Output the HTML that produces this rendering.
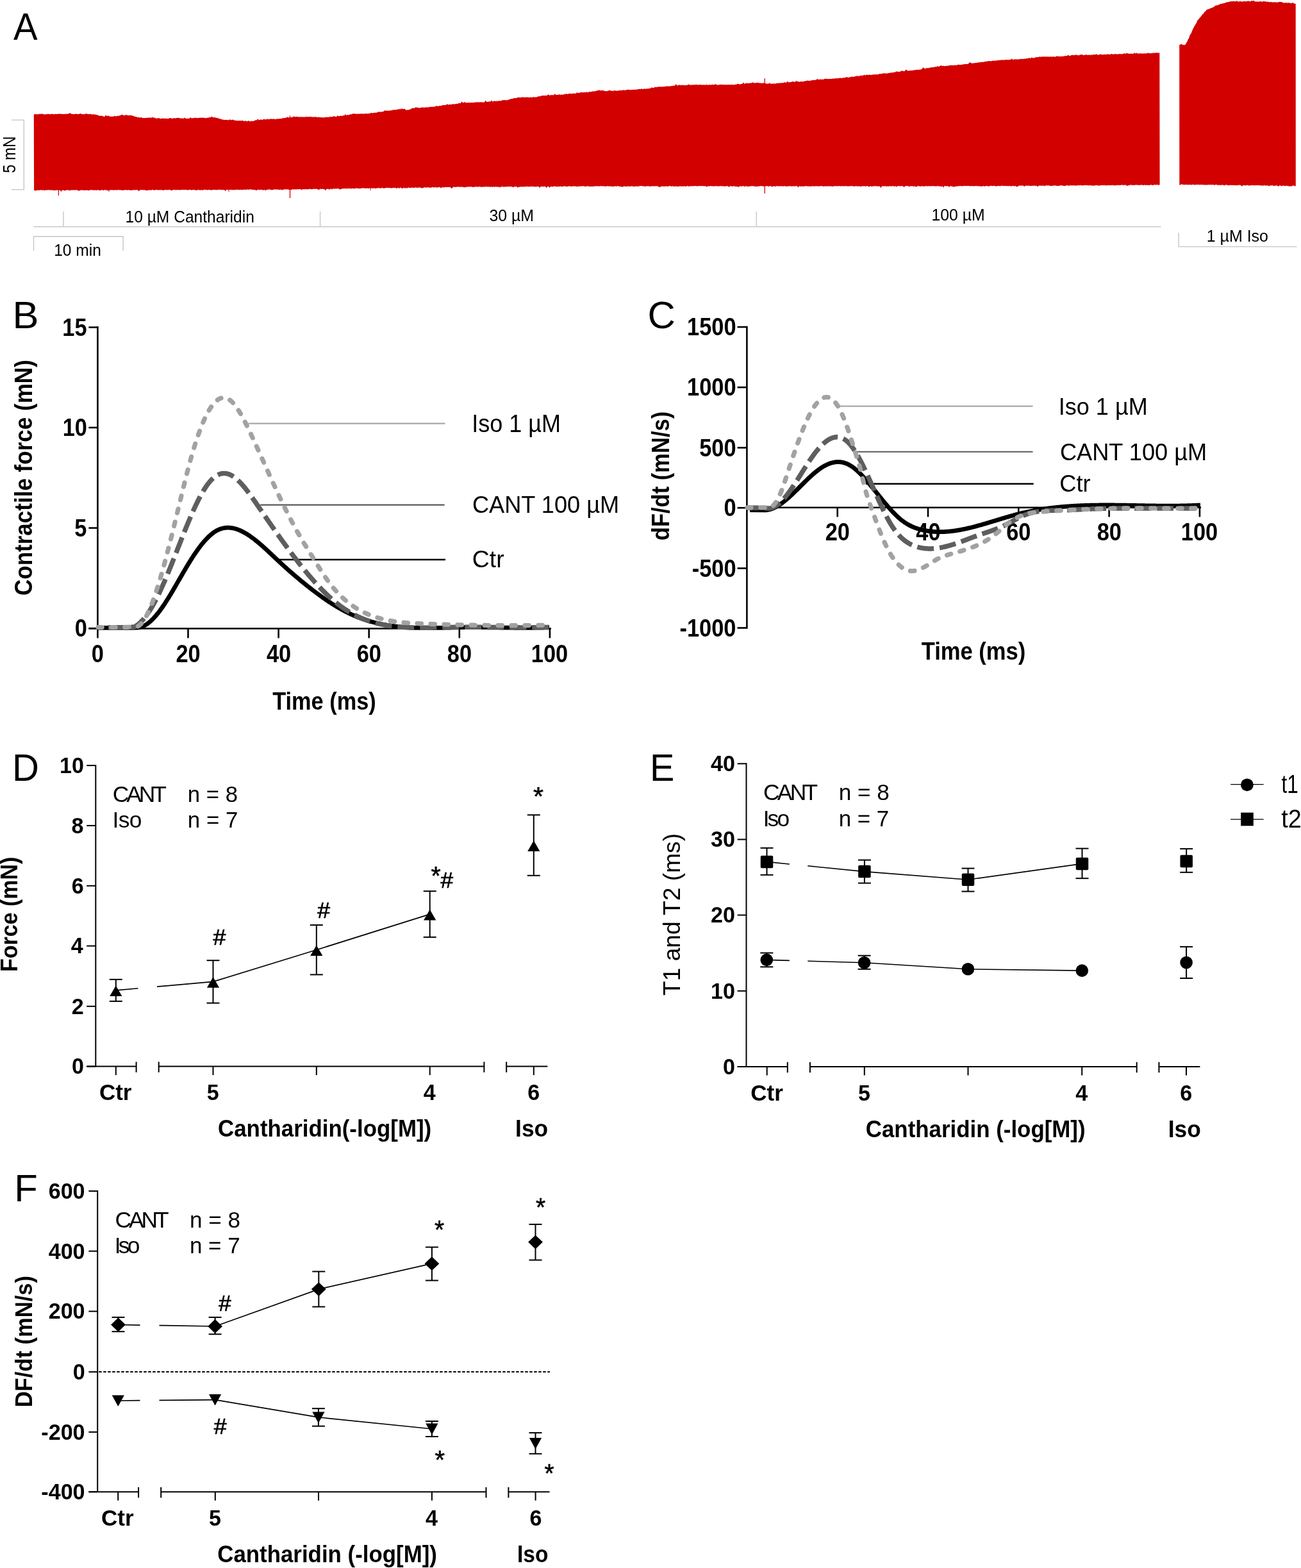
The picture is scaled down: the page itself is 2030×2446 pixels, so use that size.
<!DOCTYPE html>
<html><head><meta charset="utf-8"><title>Figure</title>
<style>
html,body{margin:0;padding:0;background:#fff;}
body{width:2030px;height:2446px;overflow:hidden;}
svg{display:block;}
text{font-family:'Liberation Sans', Arial, Helvetica, sans-serif;}
</style></head>
<body>
<svg width="2030" height="2446" viewBox="0 0 2030 2446">
<rect width="2030" height="2446" fill="#fff"/>
<path d="M52.8,178.5 L54.3,178.3 L55.8,178.1 L57.3,178.4 L58.8,178.0 L60.3,178.4 L61.8,177.6 L63.3,178.0 L64.8,177.5 L66.3,177.5 L67.8,178.3 L69.3,178.4 L70.8,178.2 L72.3,178.2 L73.8,178.1 L75.3,177.7 L76.8,178.1 L78.3,178.3 L79.8,178.1 L81.3,177.8 L82.8,177.9 L84.3,178.2 L85.8,178.3 L87.3,177.6 L88.8,178.2 L90.3,177.8 L91.8,177.5 L93.3,177.8 L94.8,177.5 L96.3,178.0 L97.8,177.9 L99.3,177.9 L100.8,177.7 L102.3,177.9 L103.8,177.4 L105.3,178.1 L106.8,177.2 L108.3,176.8 L109.8,176.2 L111.3,177.7 L112.8,178.1 L114.3,178.1 L115.8,178.2 L117.3,177.7 L118.8,177.5 L120.3,178.0 L121.8,177.9 L123.3,177.9 L124.8,177.2 L126.3,177.3 L127.8,178.2 L129.3,177.9 L130.8,178.3 L132.3,178.2 L133.8,177.1 L135.3,177.8 L136.8,177.8 L138.3,177.9 L139.8,178.2 L141.3,177.4 L142.8,178.4 L144.3,178.5 L145.8,178.3 L147.3,178.6 L148.8,178.8 L150.3,178.9 L151.8,179.3 L153.3,180.1 L154.8,180.6 L156.3,180.8 L157.8,180.6 L159.3,180.8 L160.8,181.5 L162.3,181.8 L163.8,181.8 L165.3,178.9 L166.8,181.6 L168.3,180.4 L169.8,180.8 L171.3,181.8 L172.8,181.7 L174.3,181.7 L175.8,181.8 L177.3,181.4 L178.8,180.7 L180.3,181.4 L181.8,181.3 L183.3,180.7 L184.8,180.8 L186.3,180.6 L187.8,179.9 L189.3,178.9 L190.8,178.7 L192.3,180.0 L193.8,180.0 L195.3,179.7 L196.8,179.2 L198.3,179.5 L199.8,180.0 L201.3,179.9 L202.8,179.9 L204.3,179.4 L205.8,180.6 L207.3,180.6 L208.8,181.2 L210.3,181.7 L211.8,182.3 L213.3,182.5 L214.8,183.0 L216.3,183.1 L217.8,183.4 L219.3,183.6 L220.8,182.8 L222.3,184.2 L223.8,183.9 L225.3,184.1 L226.8,184.2 L228.3,183.8 L229.8,183.7 L231.3,183.7 L232.8,183.5 L234.3,183.6 L235.8,183.5 L237.3,183.7 L238.8,182.2 L240.3,184.2 L241.8,183.6 L243.3,184.7 L244.8,184.8 L246.3,184.3 L247.8,184.2 L249.3,184.8 L250.8,185.2 L252.3,184.8 L253.8,184.4 L255.3,185.0 L256.8,184.8 L258.3,184.9 L259.8,184.7 L261.3,185.2 L262.8,185.0 L264.3,184.3 L265.8,184.1 L267.3,184.8 L268.8,184.7 L270.3,184.6 L271.8,184.2 L273.3,184.5 L274.8,184.3 L276.3,184.1 L277.8,183.7 L279.3,183.9 L280.8,184.4 L282.3,184.5 L283.8,184.7 L285.3,184.5 L286.8,184.9 L288.3,183.2 L289.8,185.0 L291.3,185.0 L292.8,184.8 L294.3,184.9 L295.8,184.6 L297.3,183.0 L298.8,184.6 L300.3,184.2 L301.8,184.3 L303.3,184.0 L304.8,183.6 L306.3,184.0 L307.8,184.2 L309.3,183.9 L310.8,183.7 L312.3,183.7 L313.8,183.4 L315.3,184.0 L316.8,183.2 L318.3,184.0 L319.8,184.0 L321.3,184.2 L322.8,183.7 L324.3,183.7 L325.8,183.6 L327.3,182.9 L328.8,183.2 L330.3,181.4 L331.8,182.9 L333.3,183.3 L334.8,182.9 L336.3,183.4 L337.8,184.0 L339.3,184.1 L340.8,184.4 L342.3,185.2 L343.8,185.4 L345.3,185.8 L346.8,186.4 L348.3,186.8 L349.8,187.0 L351.3,187.1 L352.8,187.1 L354.3,187.0 L355.8,187.2 L357.3,187.4 L358.8,186.1 L360.3,187.3 L361.8,187.2 L363.3,186.4 L364.8,187.2 L366.3,187.9 L367.8,187.7 L369.3,188.2 L370.8,188.2 L372.3,188.4 L373.8,188.0 L375.3,188.3 L376.8,188.5 L378.3,187.8 L379.8,188.7 L381.3,189.1 L382.8,188.3 L384.3,189.1 L385.8,189.4 L387.3,188.6 L388.8,188.6 L390.3,189.7 L391.8,188.6 L393.3,188.9 L394.8,189.1 L396.3,188.7 L397.8,187.6 L399.3,187.5 L400.8,187.3 L402.3,185.3 L403.8,187.5 L405.3,186.7 L406.8,186.4 L408.3,186.7 L409.8,186.8 L411.3,185.9 L412.8,186.1 L414.3,186.5 L415.8,186.1 L417.3,185.6 L418.8,186.1 L420.3,186.2 L421.8,185.2 L423.3,185.5 L424.8,185.8 L426.3,185.4 L427.8,185.5 L429.3,185.9 L430.8,185.7 L432.3,185.6 L433.8,185.2 L435.3,185.6 L436.8,185.1 L438.3,185.1 L439.8,184.9 L441.3,184.1 L442.8,184.3 L444.3,184.3 L445.8,183.5 L447.3,183.4 L448.8,182.3 L450.3,183.6 L451.8,183.3 L453.3,182.9 L454.8,183.0 L456.3,182.8 L457.8,181.8 L459.3,181.7 L460.8,182.4 L462.3,182.0 L463.8,182.1 L465.3,182.3 L466.8,182.4 L468.3,182.6 L469.8,182.3 L471.3,182.6 L472.8,182.6 L474.3,182.4 L475.8,182.6 L477.3,182.2 L478.8,182.1 L480.3,182.6 L481.8,182.0 L483.3,182.6 L484.8,181.7 L486.3,182.5 L487.8,182.6 L489.3,182.5 L490.8,182.8 L492.3,182.1 L493.8,182.7 L495.3,182.9 L496.8,182.6 L498.3,182.9 L499.8,182.8 L501.3,183.5 L502.8,183.1 L504.3,183.3 L505.8,183.5 L507.3,182.8 L508.8,182.8 L510.3,182.8 L511.8,182.8 L513.3,182.7 L514.8,182.3 L516.3,182.1 L517.8,182.4 L519.3,182.0 L520.8,181.0 L522.3,181.8 L523.8,182.0 L525.3,182.0 L526.8,179.9 L528.3,181.6 L529.8,181.1 L531.3,180.4 L532.8,181.0 L534.3,180.8 L535.8,180.0 L537.3,180.3 L538.8,178.0 L540.3,180.0 L541.8,179.2 L543.3,179.3 L544.8,179.4 L546.3,178.3 L547.8,178.2 L549.3,178.3 L550.8,177.1 L552.3,177.4 L553.8,177.3 L555.3,177.7 L556.8,177.8 L558.3,177.4 L559.8,177.7 L561.3,177.6 L562.8,177.3 L564.3,177.5 L565.8,177.6 L567.3,177.5 L568.8,177.4 L570.3,177.2 L571.8,177.1 L573.3,177.4 L574.8,177.2 L576.3,176.9 L577.8,176.8 L579.3,175.7 L580.8,176.8 L582.3,176.1 L583.8,176.1 L585.3,175.7 L586.8,175.8 L588.3,175.5 L589.8,174.5 L591.3,174.5 L592.8,174.4 L594.3,174.4 L595.8,174.4 L597.3,174.1 L598.8,173.7 L600.3,172.3 L601.8,172.8 L603.3,172.3 L604.8,173.0 L606.3,172.4 L607.8,172.5 L609.3,172.4 L610.8,171.9 L612.3,171.8 L613.8,171.3 L615.3,171.5 L616.8,171.3 L618.3,171.3 L619.8,171.1 L621.3,170.1 L622.8,170.8 L624.3,169.6 L625.8,170.8 L627.3,168.8 L628.8,170.4 L630.3,169.7 L631.8,170.0 L633.3,171.4 L634.8,171.8 L636.3,171.3 L637.8,171.5 L639.3,170.5 L640.8,170.4 L642.3,169.0 L643.8,168.7 L645.3,168.4 L646.8,169.0 L648.3,167.0 L649.8,168.0 L651.3,167.3 L652.8,168.5 L654.3,168.2 L655.8,168.2 L657.3,167.7 L658.8,167.6 L660.3,167.6 L661.8,167.9 L663.3,167.6 L664.8,167.3 L666.3,167.4 L667.8,167.5 L669.3,166.9 L670.8,166.8 L672.3,166.8 L673.8,166.5 L675.3,166.8 L676.8,166.4 L678.3,166.5 L679.8,165.7 L681.3,165.1 L682.8,165.7 L684.3,165.5 L685.8,165.1 L687.3,165.1 L688.8,165.0 L690.3,163.9 L691.8,164.0 L693.3,163.9 L694.8,163.9 L696.3,163.6 L697.8,162.3 L699.3,163.2 L700.8,163.2 L702.3,162.8 L703.8,162.9 L705.3,162.9 L706.8,162.1 L708.3,162.4 L709.8,162.4 L711.3,161.9 L712.8,161.8 L714.3,161.9 L715.8,160.8 L717.3,161.0 L718.8,161.0 L720.3,158.3 L721.8,159.9 L723.3,160.2 L724.8,158.7 L726.3,160.3 L727.8,160.2 L729.3,160.2 L730.8,160.0 L732.3,160.3 L733.8,160.0 L735.3,160.1 L736.8,159.9 L738.3,160.2 L739.8,159.6 L741.3,160.1 L742.8,159.3 L744.3,159.4 L745.8,159.6 L747.3,159.3 L748.8,159.5 L750.3,159.2 L751.8,159.4 L753.3,159.5 L754.8,159.7 L756.3,158.7 L757.8,156.8 L759.3,159.0 L760.8,158.7 L762.3,158.7 L763.8,158.3 L765.3,158.4 L766.8,156.5 L768.3,158.3 L769.8,158.3 L771.3,157.3 L772.8,157.9 L774.3,157.5 L775.8,157.7 L777.3,157.7 L778.8,156.9 L780.3,157.4 L781.8,157.3 L783.3,156.6 L784.8,156.2 L786.3,156.1 L787.8,156.0 L789.3,156.7 L790.8,155.9 L792.3,156.2 L793.8,155.4 L795.3,154.7 L796.8,154.6 L798.3,154.0 L799.8,154.2 L801.3,153.0 L802.8,153.3 L804.3,153.0 L805.8,152.8 L807.3,152.5 L808.8,151.7 L810.3,152.0 L811.8,152.2 L813.3,152.0 L814.8,151.6 L816.3,151.4 L817.8,152.1 L819.3,152.1 L820.8,151.5 L822.3,151.7 L823.8,151.8 L825.3,152.1 L826.8,151.9 L828.3,151.5 L829.8,152.3 L831.3,151.5 L832.8,151.2 L834.3,151.8 L835.8,151.6 L837.3,151.4 L838.8,151.1 L840.3,149.9 L841.8,150.4 L843.3,149.9 L844.8,149.2 L846.3,149.2 L847.8,149.1 L849.3,149.2 L850.8,149.0 L852.3,148.9 L853.8,148.9 L855.3,146.9 L856.8,148.4 L858.3,148.7 L859.8,148.0 L861.3,148.4 L862.8,148.0 L864.3,148.4 L865.8,146.1 L867.3,148.0 L868.8,148.1 L870.3,147.9 L871.8,147.5 L873.3,147.2 L874.8,147.9 L876.3,147.6 L877.8,147.7 L879.3,147.5 L880.8,146.6 L882.3,147.2 L883.8,145.7 L885.3,146.9 L886.8,146.6 L888.3,145.8 L889.8,146.1 L891.3,146.3 L892.8,146.3 L894.3,145.4 L895.8,146.0 L897.3,145.8 L898.8,145.7 L900.3,144.2 L901.8,145.0 L903.3,144.9 L904.8,144.5 L906.3,144.3 L907.8,143.8 L909.3,144.5 L910.8,143.7 L912.3,144.1 L913.8,144.1 L915.3,143.5 L916.8,144.0 L918.3,143.8 L919.8,142.8 L921.3,143.4 L922.8,142.9 L924.3,142.6 L925.8,142.6 L927.3,142.5 L928.8,142.2 L930.3,141.7 L931.8,141.2 L933.3,141.2 L934.8,140.3 L936.3,141.2 L937.8,141.2 L939.3,141.0 L940.8,141.1 L942.3,141.4 L943.8,142.0 L945.3,142.2 L946.8,142.2 L948.3,141.8 L949.8,141.2 L951.3,140.9 L952.8,141.3 L954.3,141.8 L955.8,141.7 L957.3,141.9 L958.8,140.8 L960.3,141.5 L961.8,141.7 L963.3,141.6 L964.8,141.4 L966.3,141.1 L967.8,141.1 L969.3,140.9 L970.8,141.0 L972.3,140.2 L973.8,140.8 L975.3,140.7 L976.8,140.6 L978.3,140.0 L979.8,139.7 L981.3,139.9 L982.8,140.1 L984.3,140.4 L985.8,139.8 L987.3,140.3 L988.8,139.6 L990.3,140.0 L991.8,139.7 L993.3,139.5 L994.8,139.4 L996.3,139.1 L997.8,138.8 L999.3,139.2 L1000.8,138.3 L1002.3,139.1 L1003.8,138.9 L1005.3,138.3 L1006.8,138.7 L1008.3,138.5 L1009.8,138.4 L1011.3,138.1 L1012.8,138.3 L1014.3,137.9 L1015.8,136.7 L1017.3,136.6 L1018.8,137.0 L1020.3,136.9 L1021.8,135.4 L1023.3,136.0 L1024.8,136.1 L1026.3,135.5 L1027.8,135.5 L1029.3,135.3 L1030.8,135.3 L1032.3,135.4 L1033.8,135.2 L1035.3,135.3 L1036.8,135.3 L1038.3,134.5 L1039.8,134.8 L1041.3,134.6 L1042.8,134.5 L1044.3,134.5 L1045.8,134.4 L1047.3,134.2 L1048.8,134.0 L1050.3,133.8 L1051.8,133.8 L1053.3,133.2 L1054.8,130.9 L1056.3,133.6 L1057.8,133.3 L1059.3,132.2 L1060.8,132.8 L1062.3,133.1 L1063.8,132.7 L1065.3,132.5 L1066.8,132.9 L1068.3,133.1 L1069.8,133.1 L1071.3,132.8 L1072.8,132.7 L1074.3,131.6 L1075.8,132.3 L1077.3,132.6 L1078.8,132.8 L1080.3,132.0 L1081.8,132.7 L1083.3,131.9 L1084.8,132.2 L1086.3,132.1 L1087.8,132.1 L1089.3,132.6 L1090.8,132.3 L1092.3,132.1 L1093.8,132.3 L1095.3,132.6 L1096.8,132.4 L1098.3,132.3 L1099.8,132.4 L1101.3,132.4 L1102.8,131.8 L1104.3,132.7 L1105.8,132.5 L1107.3,132.1 L1108.8,132.4 L1110.3,132.2 L1111.8,131.7 L1113.3,132.3 L1114.8,132.0 L1116.3,131.0 L1117.8,131.9 L1119.3,132.4 L1120.8,132.4 L1122.3,132.3 L1123.8,132.0 L1125.3,131.7 L1126.8,132.1 L1128.3,132.2 L1129.8,131.9 L1131.3,132.0 L1132.8,132.4 L1134.3,132.0 L1135.8,132.1 L1137.3,132.1 L1138.8,132.2 L1140.3,132.1 L1141.8,132.1 L1143.3,131.9 L1144.8,132.3 L1146.3,132.2 L1147.8,131.4 L1149.3,131.7 L1150.8,130.7 L1152.3,131.1 L1153.8,131.5 L1155.3,131.4 L1156.8,130.9 L1158.3,131.0 L1159.8,128.2 L1161.3,130.8 L1162.8,130.2 L1164.3,129.8 L1165.8,129.6 L1167.3,130.2 L1168.8,129.6 L1170.3,129.7 L1171.8,129.6 L1173.3,129.3 L1174.8,128.2 L1176.3,129.6 L1177.8,129.5 L1179.3,129.3 L1180.8,129.1 L1182.3,129.1 L1183.8,129.3 L1185.3,129.5 L1186.8,129.6 L1188.3,130.0 L1189.8,129.6 L1191.3,129.4 L1192.8,129.8 L1194.3,130.1 L1195.8,130.6 L1197.3,130.6 L1198.8,131.0 L1200.3,129.1 L1201.8,130.4 L1203.3,130.6 L1204.8,130.8 L1206.3,130.2 L1207.8,130.4 L1209.3,130.4 L1210.8,130.4 L1212.3,129.4 L1213.8,130.0 L1215.3,129.4 L1216.8,129.4 L1218.3,129.7 L1219.8,129.0 L1221.3,129.4 L1222.8,129.1 L1224.3,128.1 L1225.8,128.9 L1227.3,128.6 L1228.8,126.8 L1230.3,128.3 L1231.8,128.4 L1233.3,128.0 L1234.8,128.0 L1236.3,127.1 L1237.8,127.5 L1239.3,127.4 L1240.8,128.0 L1242.3,125.7 L1243.8,127.3 L1245.3,127.0 L1246.8,127.7 L1248.3,127.4 L1249.8,127.1 L1251.3,127.3 L1252.8,127.2 L1254.3,126.9 L1255.8,126.5 L1257.3,126.2 L1258.8,126.3 L1260.3,125.2 L1261.8,126.2 L1263.3,125.9 L1264.8,125.7 L1266.3,125.3 L1267.8,125.2 L1269.3,124.8 L1270.8,124.9 L1272.3,124.8 L1273.8,124.2 L1275.3,123.1 L1276.8,124.1 L1278.3,124.2 L1279.8,123.4 L1281.3,124.0 L1282.8,123.8 L1284.3,123.9 L1285.8,123.5 L1287.3,122.7 L1288.8,122.8 L1290.3,123.3 L1291.8,123.1 L1293.3,123.2 L1294.8,122.9 L1296.3,123.1 L1297.8,122.9 L1299.3,122.4 L1300.8,122.8 L1302.3,122.4 L1303.8,122.2 L1305.3,122.1 L1306.8,122.4 L1308.3,122.1 L1309.8,121.8 L1311.3,121.6 L1312.8,122.0 L1314.3,121.8 L1315.8,121.2 L1317.3,121.2 L1318.8,121.2 L1320.3,120.3 L1321.8,120.2 L1323.3,121.1 L1324.8,120.9 L1326.3,119.8 L1327.8,120.5 L1329.3,119.3 L1330.8,119.8 L1332.3,119.9 L1333.8,119.1 L1335.3,119.3 L1336.8,118.2 L1338.3,118.7 L1339.8,118.7 L1341.3,118.5 L1342.8,117.8 L1344.3,118.0 L1345.8,117.7 L1347.3,117.6 L1348.8,116.4 L1350.3,117.7 L1351.8,116.6 L1353.3,116.8 L1354.8,117.1 L1356.3,116.4 L1357.8,116.8 L1359.3,116.9 L1360.8,116.7 L1362.3,116.3 L1363.8,116.3 L1365.3,116.2 L1366.8,116.1 L1368.3,116.3 L1369.8,116.1 L1371.3,116.0 L1372.8,114.7 L1374.3,115.5 L1375.8,114.9 L1377.3,114.6 L1378.8,114.3 L1380.3,114.4 L1381.8,114.5 L1383.3,114.6 L1384.8,114.4 L1386.3,114.1 L1387.8,114.0 L1389.3,113.3 L1390.8,113.7 L1392.3,113.0 L1393.8,113.1 L1395.3,112.7 L1396.8,112.4 L1398.3,111.6 L1399.8,111.4 L1401.3,111.9 L1402.8,111.7 L1404.3,111.9 L1405.8,110.7 L1407.3,110.3 L1408.8,111.1 L1410.3,111.1 L1411.8,111.1 L1413.3,108.8 L1414.8,108.9 L1416.3,110.5 L1417.8,110.4 L1419.3,110.0 L1420.8,110.1 L1422.3,110.1 L1423.8,110.0 L1425.3,109.6 L1426.8,109.3 L1428.3,109.2 L1429.8,108.8 L1431.3,108.7 L1432.8,109.0 L1434.3,108.7 L1435.8,108.6 L1437.3,108.2 L1438.8,107.5 L1440.3,105.0 L1441.8,106.4 L1443.3,107.1 L1444.8,106.7 L1446.3,106.1 L1447.8,106.3 L1449.3,106.0 L1450.8,105.5 L1452.3,105.5 L1453.8,104.9 L1455.3,104.7 L1456.8,104.9 L1458.3,104.5 L1459.8,103.9 L1461.3,104.4 L1462.8,102.8 L1464.3,103.9 L1465.8,103.6 L1467.3,102.6 L1468.8,102.0 L1470.3,103.2 L1471.8,102.6 L1473.3,103.2 L1474.8,103.1 L1476.3,102.9 L1477.8,102.4 L1479.3,102.8 L1480.8,102.2 L1482.3,102.0 L1483.8,101.6 L1485.3,101.9 L1486.8,101.7 L1488.3,101.9 L1489.8,101.4 L1491.3,101.8 L1492.8,101.5 L1494.3,101.3 L1495.8,100.5 L1497.3,101.2 L1498.8,101.1 L1500.3,100.9 L1501.8,100.5 L1503.3,100.6 L1504.8,100.1 L1506.3,99.9 L1507.8,100.1 L1509.3,100.0 L1510.8,99.6 L1512.3,98.3 L1513.8,97.0 L1515.3,98.5 L1516.8,98.8 L1518.3,98.5 L1519.8,98.4 L1521.3,98.2 L1522.8,97.9 L1524.3,98.0 L1525.8,97.4 L1527.3,97.2 L1528.8,97.5 L1530.3,96.7 L1531.8,96.9 L1533.3,96.8 L1534.8,96.7 L1536.3,96.2 L1537.8,96.0 L1539.3,95.6 L1540.8,95.9 L1542.3,95.1 L1543.8,95.3 L1545.3,95.3 L1546.8,95.4 L1548.3,94.7 L1549.8,94.7 L1551.3,95.1 L1552.8,94.4 L1554.3,94.6 L1555.8,94.4 L1557.3,93.7 L1558.8,94.1 L1560.3,93.9 L1561.8,93.4 L1563.3,93.8 L1564.8,93.2 L1566.3,93.7 L1567.8,93.4 L1569.3,93.1 L1570.8,93.4 L1572.3,93.1 L1573.8,93.6 L1575.3,92.9 L1576.8,93.2 L1578.3,91.5 L1579.8,92.8 L1581.3,92.9 L1582.8,92.4 L1584.3,92.6 L1585.8,92.6 L1587.3,92.5 L1588.8,92.7 L1590.3,92.2 L1591.8,92.2 L1593.3,91.7 L1594.8,92.1 L1596.3,92.2 L1597.8,91.6 L1599.3,91.7 L1600.8,91.5 L1602.3,90.9 L1603.8,91.5 L1605.3,90.1 L1606.8,90.8 L1608.3,91.0 L1609.8,89.2 L1611.3,90.4 L1612.8,90.5 L1614.3,90.0 L1615.8,89.5 L1617.3,88.9 L1618.8,89.3 L1620.3,89.2 L1621.8,88.3 L1623.3,88.7 L1624.8,88.4 L1626.3,88.8 L1627.8,88.1 L1629.3,88.8 L1630.8,88.0 L1632.3,88.8 L1633.8,88.3 L1635.3,88.4 L1636.8,88.5 L1638.3,88.5 L1639.8,88.2 L1641.3,88.8 L1642.8,88.3 L1644.3,88.2 L1645.8,88.7 L1647.3,88.6 L1648.8,87.2 L1650.3,87.9 L1651.8,87.9 L1653.3,88.1 L1654.8,88.1 L1656.3,88.2 L1657.8,87.5 L1659.3,88.1 L1660.8,87.4 L1662.3,87.0 L1663.8,87.3 L1665.3,86.9 L1666.8,85.5 L1668.3,86.9 L1669.8,86.9 L1671.3,86.3 L1672.8,85.7 L1674.3,85.9 L1675.8,86.0 L1677.3,86.3 L1678.8,85.2 L1680.3,85.7 L1681.8,86.3 L1683.3,86.2 L1684.8,85.8 L1686.3,85.2 L1687.8,85.1 L1689.3,85.4 L1690.8,86.2 L1692.3,85.6 L1693.8,85.7 L1695.3,85.1 L1696.8,86.1 L1698.3,85.7 L1699.8,85.6 L1701.3,85.9 L1702.8,85.4 L1704.3,85.8 L1705.8,85.1 L1707.3,85.1 L1708.8,85.7 L1710.3,83.8 L1711.8,85.6 L1713.3,85.4 L1714.8,85.5 L1716.3,84.6 L1717.8,85.1 L1719.3,84.7 L1720.8,85.4 L1722.3,84.9 L1723.8,84.8 L1725.3,85.2 L1726.8,84.7 L1728.3,84.6 L1729.8,84.8 L1731.3,84.9 L1732.8,84.8 L1734.3,83.9 L1735.8,84.5 L1737.3,84.8 L1738.8,84.4 L1740.3,84.1 L1741.8,84.4 L1743.3,84.4 L1744.8,84.4 L1746.3,84.3 L1747.8,84.0 L1749.3,84.4 L1750.8,84.3 L1752.3,84.0 L1753.8,83.3 L1755.3,83.5 L1756.8,84.0 L1758.3,82.3 L1759.8,83.8 L1761.3,83.6 L1762.8,83.9 L1764.3,83.6 L1765.8,83.7 L1767.3,83.7 L1768.8,83.8 L1770.3,82.0 L1771.8,83.7 L1773.3,82.2 L1774.8,83.5 L1776.3,83.5 L1777.8,83.6 L1779.3,83.3 L1780.8,83.6 L1782.3,83.6 L1783.8,83.6 L1785.3,83.4 L1786.8,83.2 L1788.3,83.4 L1789.8,83.2 L1791.3,82.3 L1792.8,83.2 L1794.3,82.9 L1795.8,83.3 L1797.3,83.1 L1798.8,82.5 L1800.3,82.8 L1801.8,82.6 L1803.3,82.5 L1804.8,82.3 L1806.3,82.5 L1807.8,82.6 L1809.3,82.4 L1809.6,288.0 L1808.1,288.7 L1806.6,288.4 L1805.1,288.1 L1803.6,288.4 L1802.1,288.3 L1800.6,288.3 L1799.1,288.9 L1797.6,288.7 L1796.1,288.2 L1794.6,288.5 L1793.1,289.2 L1791.6,288.6 L1790.1,289.0 L1788.6,288.6 L1787.1,288.9 L1785.6,288.3 L1784.1,289.2 L1782.6,288.4 L1781.1,288.5 L1779.6,288.5 L1778.1,289.1 L1776.6,288.5 L1775.1,288.8 L1773.6,288.4 L1772.1,288.3 L1770.6,289.1 L1769.1,288.8 L1767.6,288.8 L1766.1,288.7 L1764.6,288.4 L1763.1,288.4 L1761.6,289.3 L1760.1,289.3 L1758.6,290.3 L1757.1,288.7 L1755.6,288.5 L1754.1,288.8 L1752.6,288.7 L1751.1,288.6 L1749.6,288.5 L1748.1,289.0 L1746.6,288.7 L1745.1,289.0 L1743.6,288.7 L1742.1,288.9 L1740.6,289.2 L1739.1,289.3 L1737.6,289.2 L1736.1,288.8 L1734.6,288.8 L1733.1,289.3 L1731.6,288.9 L1730.1,289.1 L1728.6,289.2 L1727.1,288.8 L1725.6,289.7 L1724.1,288.7 L1722.6,289.1 L1721.1,288.9 L1719.6,289.1 L1718.1,288.9 L1716.6,289.3 L1715.1,289.8 L1713.6,289.4 L1712.1,289.0 L1710.6,289.2 L1709.1,289.0 L1707.6,289.7 L1706.1,289.4 L1704.6,289.5 L1703.1,289.5 L1701.6,289.2 L1700.1,289.1 L1698.6,289.6 L1697.1,288.9 L1695.6,289.0 L1694.1,289.0 L1692.6,289.1 L1691.1,289.0 L1689.6,289.4 L1688.1,289.2 L1686.6,289.1 L1685.1,289.1 L1683.6,289.2 L1682.1,289.0 L1680.6,289.5 L1679.1,289.4 L1677.6,289.4 L1676.1,289.1 L1674.6,289.7 L1673.1,289.1 L1671.6,289.6 L1670.1,289.3 L1668.6,289.2 L1667.1,290.0 L1665.6,289.1 L1664.1,289.3 L1662.6,289.7 L1661.1,290.3 L1659.6,289.7 L1658.1,289.8 L1656.6,289.2 L1655.1,289.2 L1653.6,289.4 L1652.1,290.0 L1650.6,290.0 L1649.1,289.9 L1647.6,289.4 L1646.1,289.4 L1644.6,289.3 L1643.1,290.0 L1641.6,289.8 L1640.1,289.9 L1638.6,290.0 L1637.1,289.5 L1635.6,289.3 L1634.1,289.5 L1632.6,289.3 L1631.1,289.6 L1629.6,290.5 L1628.1,289.4 L1626.6,289.6 L1625.1,290.0 L1623.6,289.6 L1622.1,289.6 L1620.6,289.7 L1619.1,291.6 L1617.6,289.7 L1616.1,289.9 L1614.6,289.7 L1613.1,289.5 L1611.6,289.9 L1610.1,289.8 L1608.6,290.3 L1607.1,290.1 L1605.6,289.6 L1604.1,289.8 L1602.6,289.8 L1601.1,289.6 L1599.6,290.0 L1598.1,291.3 L1596.6,289.5 L1595.1,289.6 L1593.6,289.8 L1592.1,289.6 L1590.6,289.6 L1589.1,290.2 L1587.6,290.9 L1586.1,291.4 L1584.6,289.7 L1583.1,290.7 L1581.6,289.9 L1580.1,290.0 L1578.6,290.5 L1577.1,290.5 L1575.6,289.7 L1574.1,290.5 L1572.6,290.0 L1571.1,290.2 L1569.6,289.9 L1568.1,290.1 L1566.6,289.9 L1565.1,290.0 L1563.6,289.7 L1562.1,289.7 L1560.6,290.4 L1559.1,289.9 L1557.6,290.1 L1556.1,289.9 L1554.6,290.9 L1553.1,290.1 L1551.6,289.9 L1550.1,289.8 L1548.6,290.3 L1547.1,289.8 L1545.6,289.9 L1544.1,289.9 L1542.6,290.9 L1541.1,290.2 L1539.6,289.9 L1538.1,290.2 L1536.6,290.7 L1535.1,290.5 L1533.6,289.9 L1532.1,291.2 L1530.6,290.2 L1529.1,290.9 L1527.6,290.1 L1526.1,290.5 L1524.6,290.2 L1523.1,290.0 L1521.6,290.2 L1520.1,290.3 L1518.6,290.4 L1517.1,290.1 L1515.6,290.2 L1514.1,290.4 L1512.6,290.0 L1511.1,289.9 L1509.6,290.1 L1508.1,289.9 L1506.6,290.0 L1505.1,290.1 L1503.6,289.9 L1502.1,290.2 L1500.6,290.6 L1499.1,290.1 L1497.6,290.3 L1496.1,290.2 L1494.6,290.2 L1493.1,290.9 L1491.6,290.2 L1490.1,291.5 L1488.6,291.3 L1487.1,291.6 L1485.6,290.5 L1484.1,290.8 L1482.6,290.1 L1481.1,291.9 L1479.6,290.6 L1478.1,290.2 L1476.6,290.5 L1475.1,290.2 L1473.6,290.1 L1472.1,293.1 L1470.6,290.1 L1469.1,291.6 L1467.6,290.6 L1466.1,290.8 L1464.6,290.2 L1463.1,290.2 L1461.6,290.4 L1460.1,290.5 L1458.6,290.6 L1457.1,290.3 L1455.6,290.3 L1454.1,290.3 L1452.6,290.4 L1451.1,290.2 L1449.6,290.3 L1448.1,290.4 L1446.6,290.4 L1445.1,290.2 L1443.6,290.2 L1442.1,291.0 L1440.6,290.4 L1439.1,290.6 L1437.6,290.4 L1436.1,290.8 L1434.6,290.4 L1433.1,290.3 L1431.6,290.3 L1430.1,291.2 L1428.6,291.5 L1427.1,290.1 L1425.6,291.3 L1424.1,290.2 L1422.6,290.4 L1421.1,290.3 L1419.6,290.7 L1418.1,291.1 L1416.6,290.2 L1415.1,290.1 L1413.6,290.2 L1412.1,290.2 L1410.6,292.5 L1409.1,290.2 L1407.6,290.3 L1406.1,290.3 L1404.6,290.4 L1403.1,290.2 L1401.6,290.1 L1400.1,290.7 L1398.6,291.3 L1397.1,290.1 L1395.6,291.2 L1394.1,290.3 L1392.6,290.3 L1391.1,290.5 L1389.6,290.7 L1388.1,290.1 L1386.6,290.9 L1385.1,290.2 L1383.6,290.9 L1382.1,290.4 L1380.6,290.2 L1379.1,290.6 L1377.6,290.6 L1376.1,290.2 L1374.6,293.0 L1373.1,291.6 L1371.6,290.1 L1370.1,290.9 L1368.6,290.2 L1367.1,290.4 L1365.6,290.2 L1364.1,290.2 L1362.6,290.5 L1361.1,290.7 L1359.6,291.0 L1358.1,290.1 L1356.6,291.6 L1355.1,291.1 L1353.6,290.1 L1352.1,290.6 L1350.6,290.8 L1349.1,290.2 L1347.6,290.6 L1346.1,290.6 L1344.6,290.2 L1343.1,291.3 L1341.6,290.7 L1340.1,290.2 L1338.6,290.7 L1337.1,290.4 L1335.6,290.3 L1334.1,290.5 L1332.6,290.9 L1331.1,290.3 L1329.6,290.2 L1328.1,290.2 L1326.6,290.2 L1325.1,290.4 L1323.6,290.5 L1322.1,290.4 L1320.6,290.3 L1319.1,290.2 L1317.6,290.3 L1316.1,290.7 L1314.6,290.1 L1313.1,290.4 L1311.6,290.5 L1310.1,290.2 L1308.6,290.2 L1307.1,290.2 L1305.6,290.4 L1304.1,290.2 L1302.6,290.3 L1301.1,290.5 L1299.6,290.8 L1298.1,290.9 L1296.6,290.3 L1295.1,290.8 L1293.6,290.6 L1292.1,290.3 L1290.6,290.8 L1289.1,290.5 L1287.6,290.6 L1286.1,290.6 L1284.6,291.0 L1283.1,290.3 L1281.6,290.2 L1280.1,290.3 L1278.6,290.7 L1277.1,290.2 L1275.6,290.8 L1274.1,290.2 L1272.6,290.4 L1271.1,290.6 L1269.6,290.7 L1268.1,290.3 L1266.6,290.5 L1265.1,290.9 L1263.6,290.4 L1262.1,290.7 L1260.6,290.4 L1259.1,290.4 L1257.6,290.3 L1256.1,290.2 L1254.6,290.9 L1253.1,290.4 L1251.6,290.9 L1250.1,290.4 L1248.6,291.1 L1247.1,290.1 L1245.6,292.6 L1244.1,290.7 L1242.6,290.1 L1241.1,290.6 L1239.6,290.7 L1238.1,290.3 L1236.6,290.5 L1235.1,291.1 L1233.6,290.1 L1232.1,290.5 L1230.6,290.5 L1229.1,290.5 L1227.6,290.8 L1226.1,290.8 L1224.6,290.3 L1223.1,290.2 L1221.6,290.7 L1220.1,290.5 L1218.6,290.2 L1217.1,290.5 L1215.6,290.6 L1214.1,290.4 L1212.6,290.2 L1211.1,290.2 L1209.6,291.1 L1208.1,290.4 L1206.6,290.6 L1205.1,291.2 L1203.6,290.9 L1202.1,290.1 L1200.6,290.4 L1199.1,291.1 L1197.6,290.2 L1196.1,290.3 L1194.6,290.6 L1193.1,290.3 L1191.6,290.8 L1190.1,290.6 L1188.6,290.2 L1187.1,290.3 L1185.6,290.2 L1184.1,290.8 L1182.6,290.8 L1181.1,291.1 L1179.6,290.7 L1178.1,290.9 L1176.6,290.6 L1175.1,290.2 L1173.6,290.3 L1172.1,290.2 L1170.6,290.8 L1169.1,290.5 L1167.6,291.0 L1166.1,291.0 L1164.6,290.5 L1163.1,290.2 L1161.6,291.4 L1160.1,290.1 L1158.6,290.6 L1157.1,290.7 L1155.6,290.4 L1154.1,290.4 L1152.6,291.9 L1151.1,291.3 L1149.6,290.8 L1148.1,291.2 L1146.6,290.4 L1145.1,290.6 L1143.6,290.5 L1142.1,291.0 L1140.6,290.3 L1139.1,290.2 L1137.6,292.1 L1136.1,290.4 L1134.6,290.3 L1133.1,290.3 L1131.6,290.7 L1130.1,290.7 L1128.6,290.6 L1127.1,290.3 L1125.6,290.4 L1124.1,290.1 L1122.6,290.6 L1121.1,290.5 L1119.6,290.4 L1118.1,290.2 L1116.6,290.3 L1115.1,290.4 L1113.6,290.4 L1112.1,290.4 L1110.6,290.2 L1109.1,290.2 L1107.6,290.3 L1106.1,290.8 L1104.6,290.1 L1103.1,291.8 L1101.6,290.6 L1100.1,290.2 L1098.6,290.5 L1097.1,290.3 L1095.6,290.1 L1094.1,290.3 L1092.6,290.3 L1091.1,290.1 L1089.6,290.3 L1088.1,290.6 L1086.6,290.2 L1085.1,290.1 L1083.6,290.3 L1082.1,290.2 L1080.6,290.2 L1079.1,290.4 L1077.6,290.2 L1076.1,290.5 L1074.6,291.1 L1073.1,290.1 L1071.6,290.3 L1070.1,291.3 L1068.6,290.3 L1067.1,290.8 L1065.6,290.8 L1064.1,290.6 L1062.6,290.9 L1061.1,290.3 L1059.6,290.7 L1058.1,291.2 L1056.6,290.6 L1055.1,291.0 L1053.6,290.5 L1052.1,291.0 L1050.6,290.8 L1049.1,290.3 L1047.6,291.0 L1046.1,290.3 L1044.6,290.1 L1043.1,290.5 L1041.6,291.3 L1040.1,290.2 L1038.6,290.8 L1037.1,290.7 L1035.6,291.1 L1034.1,290.5 L1032.6,290.7 L1031.1,291.0 L1029.6,292.1 L1028.1,291.9 L1026.6,290.3 L1025.1,290.6 L1023.6,290.3 L1022.1,290.4 L1020.6,290.4 L1019.1,290.4 L1017.6,290.3 L1016.1,290.7 L1014.6,290.7 L1013.1,290.7 L1011.6,290.3 L1010.1,290.5 L1008.6,290.3 L1007.1,291.2 L1005.6,290.6 L1004.1,290.5 L1002.6,290.5 L1001.1,290.1 L999.6,290.1 L998.1,290.1 L996.6,291.1 L995.1,290.4 L993.6,290.7 L992.1,290.5 L990.6,291.0 L989.1,291.0 L987.6,290.8 L986.1,290.5 L984.6,290.6 L983.1,290.7 L981.6,290.9 L980.1,290.2 L978.6,291.1 L977.1,291.2 L975.6,290.4 L974.1,290.8 L972.6,290.8 L971.1,291.9 L969.6,291.0 L968.1,291.2 L966.6,290.7 L965.1,290.5 L963.6,290.1 L962.1,290.9 L960.6,290.3 L959.1,290.8 L957.6,290.7 L956.1,290.9 L954.6,291.0 L953.1,290.4 L951.6,290.5 L950.1,290.8 L948.6,290.3 L947.1,290.4 L945.6,290.6 L944.1,290.9 L942.6,290.6 L941.1,290.3 L939.6,290.5 L938.1,290.3 L936.6,290.3 L935.1,290.7 L933.6,290.2 L932.1,290.8 L930.6,290.2 L929.1,290.6 L927.6,290.6 L926.1,290.9 L924.6,290.8 L923.1,291.0 L921.6,290.7 L920.1,291.0 L918.6,290.8 L917.1,290.6 L915.6,290.3 L914.1,291.2 L912.6,290.7 L911.1,290.5 L909.6,290.3 L908.1,290.5 L906.6,290.5 L905.1,290.8 L903.6,290.6 L902.1,291.0 L900.6,290.7 L899.1,291.2 L897.6,290.3 L896.1,290.8 L894.6,290.5 L893.1,290.6 L891.6,291.2 L890.1,290.5 L888.6,290.5 L887.1,290.5 L885.6,290.9 L884.1,291.0 L882.6,290.8 L881.1,290.6 L879.6,290.6 L878.1,290.7 L876.6,291.6 L875.1,290.4 L873.6,290.8 L872.1,291.2 L870.6,290.7 L869.1,291.3 L867.6,291.1 L866.1,290.8 L864.6,290.6 L863.1,290.9 L861.6,291.5 L860.1,290.7 L858.6,291.4 L857.1,292.7 L855.6,290.8 L854.1,290.9 L852.6,293.4 L851.1,290.9 L849.6,290.7 L848.1,291.3 L846.6,290.9 L845.1,290.7 L843.6,291.1 L842.1,293.3 L840.6,291.2 L839.1,290.7 L837.6,291.2 L836.1,291.3 L834.6,291.4 L833.1,290.7 L831.6,291.6 L830.1,290.7 L828.6,290.9 L827.1,290.7 L825.6,291.5 L824.1,290.9 L822.6,290.9 L821.1,291.0 L819.6,291.0 L818.1,291.6 L816.6,291.0 L815.1,291.6 L813.6,291.5 L812.1,291.1 L810.6,291.9 L809.1,291.2 L807.6,293.1 L806.1,290.9 L804.6,291.1 L803.1,291.1 L801.6,292.0 L800.1,292.1 L798.6,291.1 L797.1,291.3 L795.6,291.1 L794.1,290.9 L792.6,291.0 L791.1,291.5 L789.6,291.1 L788.1,291.5 L786.6,291.5 L785.1,291.4 L783.6,290.9 L782.1,291.1 L780.6,292.4 L779.1,291.5 L777.6,291.7 L776.1,291.6 L774.6,291.4 L773.1,291.0 L771.6,292.0 L770.1,291.1 L768.6,292.1 L767.1,291.3 L765.6,291.4 L764.1,291.7 L762.6,291.3 L761.1,291.4 L759.6,291.3 L758.1,291.3 L756.6,291.3 L755.1,291.7 L753.6,291.3 L752.1,291.7 L750.6,291.7 L749.1,291.3 L747.6,291.2 L746.1,291.6 L744.6,291.5 L743.1,291.2 L741.6,291.6 L740.1,291.4 L738.6,292.0 L737.1,291.8 L735.6,291.2 L734.1,291.4 L732.6,291.3 L731.1,291.4 L729.6,291.6 L728.1,291.4 L726.6,292.1 L725.1,292.3 L723.6,292.2 L722.1,291.4 L720.6,291.4 L719.1,291.7 L717.6,291.6 L716.1,291.4 L714.6,291.4 L713.1,291.4 L711.6,291.7 L710.1,292.0 L708.6,291.5 L707.1,291.7 L705.6,293.5 L704.1,294.0 L702.6,291.7 L701.1,292.1 L699.6,291.7 L698.1,292.1 L696.6,292.1 L695.1,291.7 L693.6,292.2 L692.1,292.5 L690.6,291.9 L689.1,292.5 L687.6,293.5 L686.1,291.8 L684.6,292.0 L683.1,292.4 L681.6,292.4 L680.1,292.2 L678.6,291.9 L677.1,292.8 L675.6,291.9 L674.1,292.0 L672.6,292.9 L671.1,292.4 L669.6,292.7 L668.1,292.2 L666.6,292.2 L665.1,292.4 L663.6,292.8 L662.1,292.1 L660.6,292.9 L659.1,293.6 L657.6,293.2 L656.1,292.7 L654.6,292.5 L653.1,292.4 L651.6,292.9 L650.1,292.8 L648.6,292.4 L647.1,292.6 L645.6,293.6 L644.1,292.6 L642.6,292.7 L641.1,292.9 L639.6,293.1 L638.1,292.8 L636.6,292.5 L635.1,294.0 L633.6,292.8 L632.1,294.1 L630.6,292.8 L629.1,293.3 L627.6,294.3 L626.1,293.0 L624.6,292.6 L623.1,294.0 L621.6,293.0 L620.1,293.2 L618.6,294.2 L617.1,292.8 L615.6,293.2 L614.1,293.1 L612.6,292.9 L611.1,293.7 L609.6,293.0 L608.1,293.4 L606.6,292.9 L605.1,293.1 L603.6,293.0 L602.1,293.0 L600.6,293.6 L599.1,293.8 L597.6,293.4 L596.1,293.0 L594.6,293.4 L593.1,293.7 L591.6,293.2 L590.1,293.3 L588.6,293.6 L587.1,293.7 L585.6,294.3 L584.1,293.3 L582.6,293.8 L581.1,293.9 L579.6,293.3 L578.1,293.8 L576.6,293.3 L575.1,294.3 L573.6,293.4 L572.1,293.8 L570.6,293.8 L569.1,293.8 L567.6,293.6 L566.1,293.6 L564.6,293.5 L563.1,293.7 L561.6,294.4 L560.1,293.8 L558.6,294.0 L557.1,293.7 L555.6,293.8 L554.1,293.8 L552.6,294.4 L551.1,294.0 L549.6,293.8 L548.1,294.5 L546.6,294.0 L545.1,294.1 L543.6,293.9 L542.1,294.2 L540.6,294.3 L539.1,294.2 L537.6,294.0 L536.1,294.2 L534.6,294.2 L533.1,294.8 L531.6,294.7 L530.1,295.9 L528.6,294.2 L527.1,294.1 L525.6,294.6 L524.1,294.3 L522.6,294.4 L521.1,294.5 L519.6,294.3 L518.1,295.4 L516.6,294.5 L515.1,294.7 L513.6,296.1 L512.1,294.6 L510.6,294.7 L509.1,295.3 L507.6,297.2 L506.1,294.9 L504.6,295.1 L503.1,294.6 L501.6,295.3 L500.1,294.6 L498.6,295.2 L497.1,296.6 L495.6,295.1 L494.1,294.7 L492.6,294.7 L491.1,294.8 L489.6,294.7 L488.1,294.7 L486.6,295.4 L485.1,294.9 L483.6,294.8 L482.1,295.1 L480.6,295.2 L479.1,295.3 L477.6,295.2 L476.1,295.0 L474.6,295.4 L473.1,295.1 L471.6,295.8 L470.1,296.0 L468.6,295.1 L467.1,295.1 L465.6,295.4 L464.1,295.0 L462.6,295.4 L461.1,295.4 L459.6,295.3 L458.1,295.8 L456.6,295.1 L455.1,295.9 L453.6,296.2 L452.1,296.0 L450.6,295.7 L449.1,295.6 L447.6,295.2 L446.1,295.6 L444.6,295.3 L443.1,295.4 L441.6,296.0 L440.1,296.8 L438.6,295.6 L437.1,296.0 L435.6,296.2 L434.1,295.5 L432.6,295.7 L431.1,295.4 L429.6,295.6 L428.1,295.6 L426.6,295.8 L425.1,296.2 L423.6,296.5 L422.1,295.8 L420.6,295.6 L419.1,295.5 L417.6,295.9 L416.1,295.7 L414.6,297.5 L413.1,296.0 L411.6,296.4 L410.1,296.5 L408.6,296.0 L407.1,296.1 L405.6,295.8 L404.1,296.4 L402.6,295.8 L401.1,296.2 L399.6,297.4 L398.1,295.7 L396.6,296.6 L395.1,295.7 L393.6,295.9 L392.1,295.5 L390.6,295.6 L389.1,295.6 L387.6,295.9 L386.1,295.6 L384.6,295.8 L383.1,296.1 L381.6,295.8 L380.1,295.7 L378.6,296.2 L377.1,296.2 L375.6,295.7 L374.1,296.1 L372.6,296.2 L371.1,295.9 L369.6,295.8 L368.1,296.1 L366.6,295.9 L365.1,296.6 L363.6,295.9 L362.1,296.4 L360.6,295.7 L359.1,295.9 L357.6,295.9 L356.1,295.9 L354.6,295.9 L353.1,296.0 L351.6,298.4 L350.1,295.9 L348.6,295.9 L347.1,296.5 L345.6,296.0 L344.1,295.9 L342.6,295.7 L341.1,296.0 L339.6,296.1 L338.1,296.5 L336.6,295.9 L335.1,296.2 L333.6,295.9 L332.1,295.9 L330.6,296.5 L329.1,296.8 L327.6,295.9 L326.1,296.0 L324.6,296.3 L323.1,296.4 L321.6,296.0 L320.1,295.9 L318.6,295.8 L317.1,296.6 L315.6,296.7 L314.1,295.9 L312.6,297.0 L311.1,296.2 L309.6,296.3 L308.1,296.2 L306.6,297.3 L305.1,296.2 L303.6,296.6 L302.1,296.0 L300.6,295.9 L299.1,296.8 L297.6,296.1 L296.1,296.0 L294.6,296.1 L293.1,296.8 L291.6,296.2 L290.1,296.0 L288.6,296.1 L287.1,296.2 L285.6,296.1 L284.1,296.1 L282.6,296.2 L281.1,296.2 L279.6,296.4 L278.1,296.3 L276.6,296.1 L275.1,296.5 L273.6,296.2 L272.1,296.2 L270.6,296.1 L269.1,296.4 L267.6,297.6 L266.1,296.3 L264.6,296.1 L263.1,296.3 L261.6,296.2 L260.1,296.5 L258.6,296.1 L257.1,296.0 L255.6,297.1 L254.1,296.8 L252.6,296.2 L251.1,296.4 L249.6,296.3 L248.1,296.4 L246.6,296.5 L245.1,296.3 L243.6,296.0 L242.1,296.4 L240.6,296.9 L239.1,296.1 L237.6,296.1 L236.1,296.8 L234.6,296.5 L233.1,296.6 L231.6,296.7 L230.1,296.9 L228.6,296.9 L227.1,297.1 L225.6,296.2 L224.1,296.2 L222.6,296.6 L221.1,296.2 L219.6,296.3 L218.1,296.4 L216.6,298.4 L215.1,296.4 L213.6,296.3 L212.1,296.2 L210.6,296.6 L209.1,296.2 L207.6,296.4 L206.1,296.8 L204.6,296.8 L203.1,296.7 L201.6,296.4 L200.1,296.2 L198.6,296.8 L197.1,296.2 L195.6,296.3 L194.1,296.5 L192.6,297.0 L191.1,296.4 L189.6,296.9 L188.1,296.3 L186.6,296.4 L185.1,296.3 L183.6,296.3 L182.1,296.7 L180.6,296.3 L179.1,296.5 L177.6,296.7 L176.1,296.4 L174.6,296.3 L173.1,296.6 L171.6,296.5 L170.1,296.8 L168.6,297.0 L167.1,297.3 L165.6,296.3 L164.1,296.5 L162.6,296.3 L161.1,297.3 L159.6,296.2 L158.1,296.3 L156.6,297.3 L155.1,297.0 L153.6,296.5 L152.1,296.3 L150.6,296.9 L149.1,296.6 L147.6,296.8 L146.1,296.5 L144.6,296.7 L143.1,296.3 L141.6,296.3 L140.1,296.7 L138.6,297.2 L137.1,297.0 L135.6,296.4 L134.1,297.1 L132.6,296.4 L131.1,297.3 L129.6,296.8 L128.1,296.5 L126.6,296.5 L125.1,297.0 L123.6,297.5 L122.1,297.7 L120.6,296.3 L119.1,296.6 L117.6,296.6 L116.1,296.6 L114.6,296.6 L113.1,296.5 L111.6,296.5 L110.1,296.8 L108.6,297.6 L107.1,296.4 L105.6,296.5 L104.1,296.4 L102.6,296.7 L101.1,297.7 L99.6,296.7 L98.1,296.5 L96.6,296.9 L95.1,299.2 L93.6,296.4 L92.1,296.8 L90.6,296.8 L89.1,296.6 L87.6,296.8 L86.1,297.1 L84.6,297.0 L83.1,297.1 L81.6,296.5 L80.1,296.7 L78.6,296.6 L77.1,296.5 L75.6,296.3 L74.1,296.4 L72.6,296.8 L71.1,296.3 L69.6,297.5 L68.1,296.6 L66.6,296.6 L65.1,296.8 L63.6,296.3 L62.1,296.8 L60.6,296.9 L59.1,296.7 L57.6,296.4 L56.1,297.7 L54.6,297.2 L53.1,296.7 Z" fill="#d30000"/>
<path d="M1840.2,70.2 L1841.7,69.4 L1843.2,68.4 L1844.7,69.7 L1846.2,70.0 L1847.7,70.2 L1849.2,69.9 L1850.7,67.5 L1852.2,65.2 L1853.7,61.8 L1855.2,59.2 L1856.7,54.5 L1858.2,52.8 L1859.7,49.3 L1861.2,45.5 L1862.7,42.7 L1864.2,39.8 L1865.7,37.7 L1867.2,35.0 L1868.7,31.3 L1870.2,30.3 L1871.7,28.0 L1873.2,26.4 L1874.7,24.5 L1876.2,22.5 L1877.7,21.4 L1879.2,18.8 L1880.7,17.9 L1882.2,15.7 L1883.7,14.8 L1885.2,14.4 L1886.7,13.8 L1888.2,13.2 L1889.7,12.6 L1891.2,11.9 L1892.7,11.4 L1894.2,10.4 L1895.7,9.5 L1897.2,8.2 L1898.7,8.6 L1900.2,8.1 L1901.7,7.2 L1903.2,6.9 L1904.7,5.7 L1906.2,6.0 L1907.7,5.3 L1909.2,5.2 L1910.7,4.8 L1912.2,4.5 L1913.7,3.0 L1915.2,3.8 L1916.7,3.1 L1918.2,2.6 L1919.7,2.6 L1921.2,2.1 L1922.7,2.3 L1924.2,1.8 L1925.7,1.9 L1927.2,2.5 L1928.7,1.6 L1930.2,1.6 L1931.7,2.5 L1933.2,2.4 L1934.7,2.0 L1936.2,1.9 L1937.7,2.5 L1939.2,2.5 L1940.7,1.9 L1942.2,1.9 L1943.7,2.3 L1945.2,2.0 L1946.7,1.8 L1948.2,1.6 L1949.7,2.3 L1951.2,2.3 L1952.7,0.9 L1954.2,1.7 L1955.7,0.7 L1957.2,1.8 L1958.7,2.5 L1960.2,2.4 L1961.7,2.6 L1963.2,2.6 L1964.7,2.6 L1966.2,2.3 L1967.7,1.9 L1969.2,3.1 L1970.7,1.9 L1972.2,2.1 L1973.7,2.3 L1975.2,2.2 L1976.7,3.1 L1978.2,2.5 L1979.7,2.9 L1981.2,3.4 L1982.7,2.9 L1984.2,3.3 L1985.7,3.5 L1987.2,3.4 L1988.7,3.5 L1990.2,3.3 L1991.7,3.8 L1993.2,3.8 L1994.7,3.2 L1996.2,3.1 L1997.7,3.1 L1999.2,2.9 L2000.7,3.6 L2002.2,4.3 L2003.7,4.4 L2005.2,4.4 L2006.7,4.0 L2008.2,4.6 L2009.7,4.4 L2011.2,4.0 L2012.7,4.9 L2014.2,4.9 L2015.7,5.1 L2017.2,3.8 L2018.7,5.6 L2020.2,5.5 L2021.7,5.9 L2021.8,290.0 L2020.3,290.6 L2018.8,289.5 L2017.3,289.5 L2015.8,289.9 L2014.3,290.9 L2012.8,290.0 L2011.3,290.9 L2009.8,289.8 L2008.3,290.3 L2006.8,289.5 L2005.3,290.4 L2003.8,289.8 L2002.3,289.4 L2000.8,290.0 L1999.3,290.6 L1997.8,289.3 L1996.3,289.5 L1994.8,290.9 L1993.3,289.7 L1991.8,289.4 L1990.3,289.4 L1988.8,289.9 L1987.3,290.0 L1985.8,289.3 L1984.3,289.3 L1982.8,289.4 L1981.3,289.6 L1979.8,290.5 L1978.3,289.4 L1976.8,289.1 L1975.3,289.9 L1973.8,289.0 L1972.3,289.2 L1970.8,289.4 L1969.3,289.7 L1967.8,289.2 L1966.3,289.4 L1964.8,289.1 L1963.3,289.1 L1961.8,289.0 L1960.3,289.0 L1958.8,289.0 L1957.3,289.4 L1955.8,289.0 L1954.3,289.1 L1952.8,288.9 L1951.3,289.3 L1949.8,289.5 L1948.3,289.4 L1946.8,288.8 L1945.3,288.8 L1943.8,289.4 L1942.3,289.2 L1940.8,289.0 L1939.3,289.3 L1937.8,290.7 L1936.3,289.2 L1934.8,288.6 L1933.3,288.7 L1931.8,288.7 L1930.3,288.9 L1928.8,289.2 L1927.3,288.9 L1925.8,289.1 L1924.3,288.7 L1922.8,288.9 L1921.3,288.8 L1919.8,288.7 L1918.3,288.9 L1916.8,289.3 L1915.3,288.7 L1913.8,288.6 L1912.3,288.3 L1910.8,289.6 L1909.3,289.0 L1907.8,288.3 L1906.3,288.5 L1904.8,289.0 L1903.3,288.6 L1901.8,288.8 L1900.3,288.8 L1898.8,288.2 L1897.3,288.1 L1895.8,288.6 L1894.3,288.7 L1892.8,288.1 L1891.3,288.3 L1889.8,288.2 L1888.3,288.0 L1886.8,288.5 L1885.3,288.0 L1883.8,288.5 L1882.3,288.5 L1880.8,288.6 L1879.3,288.2 L1877.8,288.4 L1876.3,288.0 L1874.8,288.2 L1873.3,288.1 L1871.8,288.4 L1870.3,287.8 L1868.8,288.2 L1867.3,287.9 L1865.8,287.9 L1864.3,288.4 L1862.8,288.3 L1861.3,287.8 L1859.8,288.0 L1858.3,288.7 L1856.8,287.8 L1855.3,288.3 L1853.8,288.2 L1852.3,288.3 L1850.8,287.7 L1849.3,288.6 L1847.8,288.1 L1846.3,288.2 L1844.8,287.6 L1843.3,287.6 L1841.8,288.2 L1840.3,288.8 Z" fill="#d30000"/>
<line x1="91.4" y1="294" x2="91.4" y2="305" stroke="#d30000" stroke-width="1.2"/>
<line x1="452.5" y1="292" x2="452.5" y2="309" stroke="#d30000" stroke-width="1.3"/>
<line x1="452.5" y1="180.3" x2="452.5" y2="186" stroke="#d30000" stroke-width="1.2"/>
<line x1="578" y1="290" x2="578" y2="297" stroke="#d30000" stroke-width="1"/>
<line x1="1193.2" y1="122.2" x2="1193.2" y2="131" stroke="#d30000" stroke-width="1.3"/>
<line x1="1193.2" y1="288" x2="1193.2" y2="301.8" stroke="#d30000" stroke-width="1.3"/>
<line x1="357" y1="293" x2="357" y2="299" stroke="#d30000" stroke-width="1"/>
<line x1="170" y1="294" x2="170" y2="299" stroke="#d30000" stroke-width="1"/>
<polyline points="18,187.3 37.3,187.3 37.3,295.7 18,295.7" fill="none" stroke="#cdcdcd" stroke-width="1.6"/>
<line x1="52.5" y1="353.6" x2="1811.4" y2="353.6" stroke="#cdcdcd" stroke-width="1.6"/>
<line x1="99" y1="330" x2="99" y2="353.6" stroke="#cdcdcd" stroke-width="1.6"/>
<line x1="499.6" y1="330" x2="499.6" y2="353.6" stroke="#cdcdcd" stroke-width="1.6"/>
<line x1="1180.3" y1="330" x2="1180.3" y2="353.6" stroke="#cdcdcd" stroke-width="1.6"/>
<polyline points="52.5,391 52.5,368.9 192.2,368.9 192.2,391" fill="none" stroke="#cdcdcd" stroke-width="1.6"/>
<polyline points="1839.1,363 1839.1,384.8 2023.4,384.8" fill="none" stroke="#cdcdcd" stroke-width="1.6"/>
<text x="21.06" y="61.7" font-size="60" fill="#000" textLength="37.55" lengthAdjust="spacingAndGlyphs">A</text>
<text transform="translate(24.4,269.96) rotate(-90)" x="0" y="0" font-size="27.5" fill="#000" textLength="57.43" lengthAdjust="spacingAndGlyphs">5 mN</text>
<text x="195.56" y="347.4" font-size="26" fill="#000" textLength="201.32" lengthAdjust="spacingAndGlyphs">10 µM Cantharidin</text>
<text x="763.47" y="344.5" font-size="26.5" fill="#000" textLength="69.57" lengthAdjust="spacingAndGlyphs">30 µM</text>
<text x="1453.54" y="344.4" font-size="26.5" fill="#000" textLength="83.22" lengthAdjust="spacingAndGlyphs">100 µM</text>
<text x="1882.73" y="377.2" font-size="26.5" fill="#000" textLength="96.27" lengthAdjust="spacingAndGlyphs">1 µM Iso</text>
<text x="84.16" y="399" font-size="26.5" fill="#000" textLength="73.72" lengthAdjust="spacingAndGlyphs">10 min</text>
<text x="19.63" y="511.5" font-size="60" fill="#000" textLength="40.96" lengthAdjust="spacingAndGlyphs">B</text>
<line x1="152.4" y1="509" x2="152.4" y2="981.8" stroke="#000" stroke-width="2.6"/>
<line x1="138.4" y1="980.5" x2="860" y2="980.5" stroke="#000" stroke-width="2.6"/>
<line x1="138.4" y1="510.6" x2="152.4" y2="510.6" stroke="#000" stroke-width="2.6"/>
<line x1="138.4" y1="667" x2="152.4" y2="667" stroke="#000" stroke-width="2.6"/>
<line x1="138.4" y1="823.6" x2="152.4" y2="823.6" stroke="#000" stroke-width="2.6"/>
<line x1="138.4" y1="980.2" x2="152.4" y2="980.2" stroke="#000" stroke-width="2.6"/>
<line x1="152.4" y1="980.5" x2="152.4" y2="995.4" stroke="#000" stroke-width="2.6"/>
<line x1="293.5" y1="980.5" x2="293.5" y2="995.4" stroke="#000" stroke-width="2.6"/>
<line x1="434.6" y1="980.5" x2="434.6" y2="995.4" stroke="#000" stroke-width="2.6"/>
<line x1="575.7" y1="980.5" x2="575.7" y2="995.4" stroke="#000" stroke-width="2.6"/>
<line x1="716.8" y1="980.5" x2="716.8" y2="995.4" stroke="#000" stroke-width="2.6"/>
<line x1="857.9" y1="980.5" x2="857.9" y2="995.4" stroke="#000" stroke-width="2.6"/>
<text x="97.27" y="523.8" font-size="38" font-weight="bold" fill="#000" textLength="38.25" lengthAdjust="spacingAndGlyphs">15</text>
<text x="97.7" y="680.2" font-size="38" font-weight="bold" fill="#000" textLength="38.25" lengthAdjust="spacingAndGlyphs">10</text>
<text x="116.36" y="836.8" font-size="38" font-weight="bold" fill="#000" textLength="19.13" lengthAdjust="spacingAndGlyphs">5</text>
<text x="116.79" y="993.4" font-size="38" font-weight="bold" fill="#000" textLength="19.13" lengthAdjust="spacingAndGlyphs">0</text>
<text x="142.86" y="1033" font-size="38" font-weight="bold" fill="#000" textLength="19.13" lengthAdjust="spacingAndGlyphs">0</text>
<text x="274.5" y="1033" font-size="38" font-weight="bold" fill="#000" textLength="38.25" lengthAdjust="spacingAndGlyphs">20</text>
<text x="415.94" y="1033" font-size="38" font-weight="bold" fill="#000" textLength="38.25" lengthAdjust="spacingAndGlyphs">40</text>
<text x="556.66" y="1033" font-size="38" font-weight="bold" fill="#000" textLength="38.25" lengthAdjust="spacingAndGlyphs">60</text>
<text x="697.84" y="1033" font-size="38" font-weight="bold" fill="#000" textLength="38.25" lengthAdjust="spacingAndGlyphs">80</text>
<text x="828.84" y="1033" font-size="38" font-weight="bold" fill="#000" textLength="57.38" lengthAdjust="spacingAndGlyphs">100</text>
<text x="425.16" y="1106.7" font-size="38" font-weight="bold" fill="#000" textLength="161.57" lengthAdjust="spacingAndGlyphs">Time (ms)</text>
<text transform="translate(49.5,929) rotate(-90)" x="0" y="0" font-size="38.5" font-weight="bold" fill="#000" textLength="367.73" lengthAdjust="spacingAndGlyphs">Contractile force (mN)</text>
<line x1="387.5" y1="660.7" x2="694.5" y2="660.7" stroke="#a8a8a8" stroke-width="2.2"/>
<line x1="406.4" y1="787.6" x2="693.6" y2="787.6" stroke="#585858" stroke-width="2.1"/>
<line x1="435.5" y1="873" x2="695" y2="873" stroke="#000000" stroke-width="2.4"/>
<path d="M153.00,979.30 L180.00,979.30 L205.00,979.30 L215.00,979.00 L216.00,978.91 L217.00,978.77 L218.00,978.58 L219.00,978.35 L220.00,978.08 L221.00,977.76 L222.00,977.39 L223.00,976.99 L224.00,976.53 L225.00,976.04 L226.00,975.51 L227.00,974.93 L228.00,974.32 L229.00,973.66 L230.00,972.97 L231.00,972.23 L232.00,971.46 L233.00,970.65 L234.00,969.81 L235.00,968.93 L236.00,968.01 L237.00,967.06 L238.00,966.08 L239.00,965.06 L240.00,964.01 L241.00,962.93 L242.00,961.82 L243.00,960.67 L244.00,959.50 L245.00,958.29 L246.00,957.06 L247.00,955.80 L248.00,954.51 L249.00,953.19 L250.00,951.85 L251.00,950.48 L252.00,949.09 L253.00,947.67 L254.00,946.22 L255.00,944.76 L256.00,943.27 L257.00,941.77 L258.00,940.24 L259.00,938.70 L260.00,937.13 L261.00,935.55 L262.00,933.95 L263.00,932.34 L264.00,930.72 L265.00,929.08 L266.00,927.42 L267.00,925.76 L268.00,924.08 L269.00,922.40 L270.00,920.70 L271.00,919.00 L272.00,917.29 L273.00,915.57 L274.00,913.85 L275.00,912.12 L276.00,910.39 L277.00,908.66 L278.00,906.92 L279.00,905.18 L280.00,903.45 L281.00,901.71 L282.00,899.98 L283.00,898.25 L284.00,896.52 L285.00,894.79 L286.00,893.07 L287.00,891.36 L288.00,889.66 L289.00,887.96 L290.00,886.27 L291.00,884.59 L292.00,882.92 L293.00,881.26 L294.00,879.62 L295.00,877.99 L296.00,876.37 L297.00,874.76 L298.00,873.18 L299.00,871.60 L300.00,870.04 L301.00,868.50 L302.00,866.98 L303.00,865.47 L304.00,863.98 L305.00,862.51 L306.00,861.06 L307.00,859.62 L308.00,858.21 L309.00,856.82 L310.00,855.45 L311.00,854.10 L312.00,852.77 L313.00,851.47 L314.00,850.19 L315.00,848.93 L316.00,847.70 L317.00,846.49 L318.00,845.31 L319.00,844.15 L320.00,843.02 L321.00,841.91 L322.00,840.84 L323.00,839.79 L324.00,838.77 L325.00,837.78 L326.00,836.82 L327.00,835.89 L328.00,834.99 L329.00,834.12 L330.00,833.28 L331.00,832.48 L332.00,831.71 L333.00,830.97 L334.00,830.26 L335.00,829.59 L336.00,828.96 L337.00,828.36 L338.00,827.79 L339.00,827.26 L340.00,826.77 L341.00,826.31 L342.00,825.88 L343.00,825.48 L344.00,825.12 L345.00,824.79 L346.00,824.49 L347.00,824.22 L348.00,823.98 L349.00,823.78 L350.00,823.60 L351.00,823.45 L352.00,823.33 L353.00,823.24 L354.00,823.18 L355.00,823.15 L356.00,823.14 L357.00,823.17 L358.00,823.21 L359.00,823.29 L360.00,823.39 L361.00,823.51 L362.00,823.66 L363.00,823.84 L364.00,824.03 L365.00,824.26 L366.00,824.50 L367.00,824.77 L368.00,825.06 L369.00,825.37 L370.00,825.71 L371.00,826.06 L372.00,826.44 L373.00,826.83 L374.00,827.25 L375.00,827.68 L376.00,828.13 L377.00,828.61 L378.00,829.10 L379.00,829.61 L380.00,830.13 L381.00,830.68 L382.00,831.24 L383.00,831.81 L384.00,832.41 L385.00,833.02 L386.00,833.64 L387.00,834.28 L388.00,834.93 L389.00,835.60 L390.00,836.28 L391.00,836.98 L392.00,837.69 L393.00,838.41 L394.00,839.15 L395.00,839.89 L396.00,840.65 L397.00,841.42 L398.00,842.20 L399.00,843.00 L400.00,843.80 L401.00,844.61 L402.00,845.43 L403.00,846.26 L404.00,847.10 L405.00,847.95 L406.00,848.81 L407.00,849.67 L408.00,850.55 L409.00,851.42 L410.00,852.31 L411.00,853.20 L412.00,854.10 L413.00,855.00 L414.00,855.91 L415.00,856.83 L416.00,857.75 L417.00,858.67 L418.00,859.59 L419.00,860.52 L420.00,861.46 L421.00,862.39 L422.00,863.33 L423.00,864.27 L424.00,865.21 L425.00,866.16 L426.00,867.10 L427.00,868.04 L428.00,868.99 L429.00,869.93 L430.00,870.88 L431.00,871.82 L432.00,872.76 L433.00,873.70 L434.00,874.64 L435.00,875.57 L436.00,876.51 L437.00,877.44 L438.00,878.36 L439.00,879.28 L440.00,880.20 L441.00,881.12 L442.00,882.03 L443.00,882.94 L444.00,883.85 L445.00,884.75 L446.00,885.65 L447.00,886.54 L448.00,887.43 L449.00,888.32 L450.00,889.21 L451.00,890.09 L452.00,890.97 L453.00,891.85 L454.00,892.72 L455.00,893.59 L456.00,894.45 L457.00,895.32 L458.00,896.18 L459.00,897.03 L460.00,897.89 L461.00,898.74 L462.00,899.59 L463.00,900.43 L464.00,901.27 L465.00,902.11 L466.00,902.95 L467.00,903.78 L468.00,904.61 L469.00,905.43 L470.00,906.26 L471.00,907.08 L472.00,907.90 L473.00,908.71 L474.00,909.53 L475.00,910.34 L476.00,911.14 L477.00,911.95 L478.00,912.75 L479.00,913.55 L480.00,914.34 L481.00,915.14 L482.00,915.93 L483.00,916.71 L484.00,917.49 L485.00,918.27 L486.00,919.05 L487.00,919.82 L488.00,920.59 L489.00,921.36 L490.00,922.12 L491.00,922.88 L492.00,923.63 L493.00,924.39 L494.00,925.13 L495.00,925.88 L496.00,926.62 L497.00,927.35 L498.00,928.08 L499.00,928.81 L500.00,929.53 L501.00,930.25 L502.00,930.97 L503.00,931.68 L504.00,932.39 L505.00,933.09 L506.00,933.79 L507.00,934.48 L508.00,935.17 L509.00,935.85 L510.00,936.53 L511.00,937.21 L512.00,937.88 L513.00,938.54 L514.00,939.20 L515.00,939.86 L516.00,940.51 L517.00,941.15 L518.00,941.79 L519.00,942.43 L520.00,943.05 L521.00,943.68 L522.00,944.30 L523.00,944.91 L524.00,945.52 L525.00,946.12 L526.00,946.72 L527.00,947.31 L528.00,947.90 L529.00,948.48 L530.00,949.05 L531.00,949.62 L532.00,950.18 L533.00,950.74 L534.00,951.29 L535.00,951.83 L536.00,952.37 L537.00,952.90 L538.00,953.43 L539.00,953.95 L540.00,954.46 L541.00,954.97 L542.00,955.47 L543.00,955.96 L544.00,956.45 L545.00,956.93 L546.00,957.40 L547.00,957.87 L548.00,958.33 L549.00,958.79 L550.00,959.24 L551.00,959.68 L552.00,960.11 L553.00,960.54 L554.00,960.97 L555.00,961.39 L556.00,961.80 L557.00,962.20 L558.00,962.60 L559.00,963.00 L560.00,963.38 L561.00,963.77 L562.00,964.14 L563.00,964.51 L564.00,964.88 L565.00,965.23 L566.00,965.59 L567.00,965.94 L568.00,966.28 L569.00,966.61 L570.00,966.94 L571.00,967.27 L572.00,967.59 L573.00,967.90 L574.00,968.21 L575.00,968.52 L576.00,968.82 L577.00,969.11 L578.00,969.40 L579.00,969.68 L580.00,969.96 L581.00,970.23 L582.00,970.50 L583.00,970.76 L584.00,971.02 L585.00,971.28 L586.00,971.53 L587.00,971.77 L588.00,972.01 L589.00,972.24 L590.00,972.47 L591.00,972.70 L592.00,972.92 L593.00,973.14 L594.00,973.35 L595.00,973.55 L596.00,973.76 L597.00,973.96 L598.00,974.15 L599.00,974.34 L600.00,974.53 L601.00,974.71 L602.00,974.89 L603.00,975.06 L604.00,975.23 L605.00,975.39 L606.00,975.56 L607.00,975.71 L608.00,975.87 L609.00,976.02 L610.00,976.16 L611.00,976.30 L612.00,976.44 L613.00,976.58 L614.00,976.71 L615.00,976.84 L616.00,976.96 L617.00,977.08 L618.00,977.20 L619.00,977.31 L620.00,977.42 L621.00,977.53 L622.00,977.63 L623.00,977.73 L624.00,977.83 L625.00,977.92 L626.00,978.02 L627.00,978.10 L628.00,978.19 L629.00,978.27 L630.00,978.35 L631.00,978.42 L632.00,978.50 L633.00,978.57 L634.00,978.64 L635.00,978.70 L636.00,978.76 L637.00,978.82 L638.00,978.88 L639.00,978.93 L640.00,978.98 L641.00,979.03 L642.00,979.08 L643.00,979.12 L644.00,979.17 L645.00,979.21 L646.00,979.24 L647.00,979.28 L648.00,979.31 L649.00,979.34 L650.00,979.37 L651.00,979.40 L652.00,979.42 L653.00,979.45 L654.00,979.47 L655.00,979.49 L656.00,979.50 L657.00,979.52 L658.00,979.53 L659.00,979.54 L660.00,979.55 L661.00,979.56 L662.00,979.57 L663.00,979.57 L664.00,979.58 L665.00,979.58 L666.00,979.58 L667.00,979.58 L668.00,979.58 L669.00,979.57 L670.00,979.57 L671.00,979.56 L672.00,979.56 L673.00,979.55 L674.00,979.54 L675.00,979.53 L676.00,979.52 L677.00,979.51 L678.00,979.49 L679.00,979.48 L680.00,979.47 L681.00,979.45 L682.00,979.43 L683.00,979.42 L684.00,979.40 L685.00,979.38 L686.00,979.36 L687.00,979.34 L688.00,979.32 L689.00,979.30 L690.00,979.28 L691.00,979.26 L692.00,979.24 L693.00,979.22 L694.00,979.20 L695.00,979.17 L696.00,979.15 L697.00,979.13 L698.00,979.11 L699.00,979.08 L700.00,979.06 L701.00,979.04 L702.00,979.02 L703.00,978.99 L704.00,978.97 L705.00,978.95 L706.00,978.93 L707.00,978.91 L708.00,978.89 L709.00,978.87 L710.00,978.85 L711.00,978.83 L712.00,978.81 L713.00,978.79 L714.00,978.77 L715.00,978.75 L716.00,978.74 L717.00,978.72 L718.00,978.71 L719.00,978.69 L720.00,978.68 L721.00,978.67 L722.00,978.65 L723.00,978.64 L724.00,978.63 L725.00,978.62 L726.00,978.62 L727.00,978.61 L728.00,978.60 L729.00,978.60 L730.00,978.59 L731.00,978.59 L732.00,978.58 L733.00,978.58 L734.00,978.58 L735.00,978.58 L736.00,978.58 L737.00,978.58 L738.00,978.58 L739.00,978.58 L740.00,978.58 L741.00,978.58 L742.00,978.58 L743.00,978.59 L744.00,978.59 L745.00,978.60 L746.00,978.60 L747.00,978.61 L748.00,978.61 L749.00,978.62 L750.00,978.62 L751.00,978.63 L752.00,978.64 L753.00,978.65 L754.00,978.66 L755.00,978.67 L756.00,978.67 L757.00,978.68 L758.00,978.69 L759.00,978.70 L760.00,978.71 L761.00,978.73 L762.00,978.74 L763.00,978.75 L764.00,978.76 L765.00,978.77 L766.00,978.78 L767.00,978.80 L768.00,978.81 L769.00,978.82 L770.00,978.83 L771.00,978.85 L772.00,978.86 L773.00,978.87 L774.00,978.88 L775.00,978.90 L776.00,978.91 L777.00,978.92 L778.00,978.94 L779.00,978.95 L780.00,978.96 L781.00,978.98 L782.00,978.99 L783.00,979.00 L784.00,979.02 L785.00,979.03 L786.00,979.04 L787.00,979.05 L788.00,979.07 L789.00,979.08 L790.00,979.09 L791.00,979.10 L792.00,979.11 L793.00,979.13 L794.00,979.14 L795.00,979.15 L796.00,979.16 L797.00,979.17 L798.00,979.18 L799.00,979.19 L800.00,979.20 L801.00,979.21 L802.00,979.22 L803.00,979.23 L804.00,979.24 L805.00,979.24 L806.00,979.25 L807.00,979.26 L808.00,979.26 L809.00,979.27 L810.00,979.28 L811.00,979.28 L812.00,979.29 L813.00,979.29 L814.00,979.29 L815.00,979.30 L816.00,979.30 L817.00,979.30 L818.00,979.30 L819.00,979.30 L820.00,979.30 L821.00,979.30 L822.00,979.30 L823.00,979.30 L824.00,979.30 L825.00,979.29 L826.00,979.29 L827.00,979.28 L828.00,979.28 L829.00,979.27 L830.00,979.27 L831.00,979.26 L832.00,979.25 L833.00,979.24 L834.00,979.23 L835.00,979.22 L836.00,979.21 L837.00,979.19 L838.00,979.18 L839.00,979.16 L840.00,979.15 L841.00,979.13 L842.00,979.11 L843.00,979.09 L844.00,979.07 L845.00,979.05 L846.00,979.03 L847.00,979.01 L848.00,978.99 L849.00,978.96 L850.00,978.93 L851.00,978.91 L852.00,978.88 L853.00,978.85 L854.00,978.82 L855.00,978.79 L856.00,978.75 L857.00,978.72" fill="none" stroke="#000" stroke-width="6.8" stroke-linejoin="round"/>
<path d="M153.00,978.80 L180.00,978.80 L200.00,978.80 L210.00,977.80 L211.00,977.20 L212.00,976.56 L213.00,975.88 L214.00,975.16 L215.00,974.40 L216.00,973.59 L217.00,972.74 L218.00,971.85 L219.00,970.91 L220.00,969.94 L221.00,968.92 L222.00,967.86 L223.00,966.76 L224.00,965.61 L225.00,964.43 L226.00,963.20 L227.00,961.94 L228.00,960.63 L229.00,959.28 L230.00,957.89 L231.00,956.45 L232.00,954.98 L233.00,953.47 L234.00,951.92 L235.00,950.32 L236.00,948.69 L237.00,947.02 L238.00,945.30 L239.00,943.55 L240.00,941.76 L241.00,939.93 L242.00,938.06 L243.00,936.15 L244.00,934.21 L245.00,932.24 L246.00,930.22 L247.00,928.18 L248.00,926.10 L249.00,924.00 L250.00,921.86 L251.00,919.69 L252.00,917.50 L253.00,915.28 L254.00,913.04 L255.00,910.77 L256.00,908.47 L257.00,906.16 L258.00,903.82 L259.00,901.46 L260.00,899.08 L261.00,896.69 L262.00,894.27 L263.00,891.84 L264.00,889.40 L265.00,886.94 L266.00,884.47 L267.00,881.99 L268.00,879.49 L269.00,876.99 L270.00,874.47 L271.00,871.95 L272.00,869.43 L273.00,866.89 L274.00,864.35 L275.00,861.81 L276.00,859.27 L277.00,856.72 L278.00,854.17 L279.00,851.63 L280.00,849.08 L281.00,846.54 L282.00,844.01 L283.00,841.47 L284.00,838.95 L285.00,836.43 L286.00,833.91 L287.00,831.41 L288.00,828.92 L289.00,826.44 L290.00,823.97 L291.00,821.52 L292.00,819.08 L293.00,816.66 L294.00,814.25 L295.00,811.87 L296.00,809.50 L297.00,807.15 L298.00,804.82 L299.00,802.52 L300.00,800.24 L301.00,797.99 L302.00,795.76 L303.00,793.56 L304.00,791.39 L305.00,789.24 L306.00,787.13 L307.00,785.05 L308.00,783.00 L309.00,780.98 L310.00,779.00 L311.00,777.06 L312.00,775.15 L313.00,773.29 L314.00,771.46 L315.00,769.67 L316.00,767.92 L317.00,766.22 L318.00,764.56 L319.00,762.94 L320.00,761.37 L321.00,759.85 L322.00,758.38 L323.00,756.95 L324.00,755.58 L325.00,754.25 L326.00,752.99 L327.00,751.77 L328.00,750.61 L329.00,749.50 L330.00,748.44 L331.00,747.44 L332.00,746.49 L333.00,745.60 L334.00,744.76 L335.00,743.97 L336.00,743.23 L337.00,742.55 L338.00,741.91 L339.00,741.33 L340.00,740.81 L341.00,740.33 L342.00,739.91 L343.00,739.54 L344.00,739.22 L345.00,738.95 L346.00,738.74 L347.00,738.57 L348.00,738.46 L349.00,738.39 L350.00,738.38 L351.00,738.42 L352.00,738.51 L353.00,738.65 L354.00,738.84 L355.00,739.09 L356.00,739.38 L357.00,739.72 L358.00,740.10 L359.00,740.54 L360.00,741.01 L361.00,741.54 L362.00,742.10 L363.00,742.71 L364.00,743.36 L365.00,744.05 L366.00,744.78 L367.00,745.55 L368.00,746.35 L369.00,747.19 L370.00,748.07 L371.00,748.98 L372.00,749.92 L373.00,750.90 L374.00,751.90 L375.00,752.94 L376.00,754.00 L377.00,755.10 L378.00,756.22 L379.00,757.36 L380.00,758.53 L381.00,759.73 L382.00,760.94 L383.00,762.18 L384.00,763.44 L385.00,764.72 L386.00,766.02 L387.00,767.33 L388.00,768.66 L389.00,770.01 L390.00,771.37 L391.00,772.75 L392.00,774.13 L393.00,775.53 L394.00,776.94 L395.00,778.36 L396.00,779.79 L397.00,781.22 L398.00,782.66 L399.00,784.11 L400.00,785.56 L401.00,787.01 L402.00,788.47 L403.00,789.92 L404.00,791.38 L405.00,792.84 L406.00,794.29 L407.00,795.75 L408.00,797.20 L409.00,798.66 L410.00,800.11 L411.00,801.56 L412.00,803.02 L413.00,804.47 L414.00,805.92 L415.00,807.37 L416.00,808.82 L417.00,810.26 L418.00,811.71 L419.00,813.15 L420.00,814.60 L421.00,816.04 L422.00,817.48 L423.00,818.92 L424.00,820.35 L425.00,821.79 L426.00,823.22 L427.00,824.65 L428.00,826.08 L429.00,827.50 L430.00,828.92 L431.00,830.34 L432.00,831.76 L433.00,833.18 L434.00,834.59 L435.00,836.00 L436.00,837.41 L437.00,838.81 L438.00,840.21 L439.00,841.61 L440.00,843.00 L441.00,844.39 L442.00,845.78 L443.00,847.16 L444.00,848.54 L445.00,849.92 L446.00,851.29 L447.00,852.66 L448.00,854.03 L449.00,855.39 L450.00,856.75 L451.00,858.10 L452.00,859.45 L453.00,860.79 L454.00,862.13 L455.00,863.46 L456.00,864.79 L457.00,866.12 L458.00,867.44 L459.00,868.75 L460.00,870.06 L461.00,871.37 L462.00,872.67 L463.00,873.96 L464.00,875.25 L465.00,876.54 L466.00,877.82 L467.00,879.09 L468.00,880.36 L469.00,881.62 L470.00,882.87 L471.00,884.12 L472.00,885.37 L473.00,886.60 L474.00,887.84 L475.00,889.06 L476.00,890.28 L477.00,891.49 L478.00,892.70 L479.00,893.90 L480.00,895.09 L481.00,896.28 L482.00,897.46 L483.00,898.63 L484.00,899.80 L485.00,900.95 L486.00,902.10 L487.00,903.25 L488.00,904.39 L489.00,905.52 L490.00,906.64 L491.00,907.75 L492.00,908.86 L493.00,909.96 L494.00,911.05 L495.00,912.13 L496.00,913.21 L497.00,914.28 L498.00,915.34 L499.00,916.39 L500.00,917.43 L501.00,918.47 L502.00,919.49 L503.00,920.51 L504.00,921.52 L505.00,922.52 L506.00,923.51 L507.00,924.50 L508.00,925.47 L509.00,926.44 L510.00,927.39 L511.00,928.34 L512.00,929.28 L513.00,930.21 L514.00,931.13 L515.00,932.04 L516.00,932.94 L517.00,933.83 L518.00,934.71 L519.00,935.58 L520.00,936.44 L521.00,937.29 L522.00,938.14 L523.00,938.97 L524.00,939.79 L525.00,940.60 L526.00,941.40 L527.00,942.19 L528.00,942.97 L529.00,943.74 L530.00,944.50 L531.00,945.25 L532.00,945.98 L533.00,946.71 L534.00,947.42 L535.00,948.13 L536.00,948.82 L537.00,949.51 L538.00,950.18 L539.00,950.84 L540.00,951.49 L541.00,952.14 L542.00,952.77 L543.00,953.39 L544.00,954.00 L545.00,954.60 L546.00,955.20 L547.00,955.78 L548.00,956.35 L549.00,956.92 L550.00,957.47 L551.00,958.01 L552.00,958.55 L553.00,959.08 L554.00,959.59 L555.00,960.10 L556.00,960.60 L557.00,961.09 L558.00,961.57 L559.00,962.04 L560.00,962.51 L561.00,962.96 L562.00,963.41 L563.00,963.85 L564.00,964.28 L565.00,964.70 L566.00,965.11 L567.00,965.52 L568.00,965.92 L569.00,966.31 L570.00,966.69 L571.00,967.07 L572.00,967.43 L573.00,967.79 L574.00,968.14 L575.00,968.49 L576.00,968.83 L577.00,969.16 L578.00,969.48 L579.00,969.79 L580.00,970.10 L581.00,970.40 L582.00,970.70 L583.00,970.99 L584.00,971.27 L585.00,971.55 L586.00,971.81 L587.00,972.08 L588.00,972.33 L589.00,972.58 L590.00,972.83 L591.00,973.06 L592.00,973.30 L593.00,973.52 L594.00,973.74 L595.00,973.96 L596.00,974.16 L597.00,974.37 L598.00,974.56 L599.00,974.76 L600.00,974.94 L601.00,975.13 L602.00,975.30 L603.00,975.47 L604.00,975.64 L605.00,975.80 L606.00,975.96 L607.00,976.11 L608.00,976.26 L609.00,976.40 L610.00,976.54 L611.00,976.67 L612.00,976.80 L613.00,976.93 L614.00,977.05 L615.00,977.17 L616.00,977.28 L617.00,977.39 L618.00,977.49 L619.00,977.59 L620.00,977.69 L621.00,977.79 L622.00,977.88 L623.00,977.97 L624.00,978.05 L625.00,978.13 L626.00,978.21 L627.00,978.28 L628.00,978.35 L629.00,978.42 L630.00,978.49 L631.00,978.55 L632.00,978.61 L633.00,978.67 L634.00,978.72 L635.00,978.77 L636.00,978.82 L637.00,978.87 L638.00,978.91 L639.00,978.95 L640.00,978.99 L641.00,979.02 L642.00,979.06 L643.00,979.09 L644.00,979.12 L645.00,979.14 L646.00,979.17 L647.00,979.19 L648.00,979.21 L649.00,979.23 L650.00,979.24 L651.00,979.26 L652.00,979.27 L653.00,979.28 L654.00,979.29 L655.00,979.29 L656.00,979.30 L657.00,979.30 L658.00,979.30 L659.00,979.30 L660.00,979.30 L661.00,979.30 L662.00,979.29 L663.00,979.29 L664.00,979.28 L665.00,979.27 L666.00,979.26 L667.00,979.25 L668.00,979.24 L669.00,979.22 L670.00,979.21 L671.00,979.19 L672.00,979.18 L673.00,979.16 L674.00,979.14 L675.00,979.12 L676.00,979.10 L677.00,979.08 L678.00,979.06 L679.00,979.04 L680.00,979.02 L681.00,979.00 L682.00,978.97 L683.00,978.95 L684.00,978.92 L685.00,978.90 L686.00,978.88 L687.00,978.85 L688.00,978.83 L689.00,978.80 L690.00,978.78 L691.00,978.75 L692.00,978.73 L693.00,978.70 L694.00,978.68 L695.00,978.65 L696.00,978.63 L697.00,978.61 L698.00,978.58 L699.00,978.56 L700.00,978.54 L701.00,978.51 L702.00,978.49 L703.00,978.47 L704.00,978.45 L705.00,978.43 L706.00,978.41 L707.00,978.39 L708.00,978.38 L709.00,978.36 L710.00,978.34 L711.00,978.33 L712.00,978.31 L713.00,978.30 L714.00,978.29 L715.00,978.28 L716.00,978.27 L717.00,978.26 L718.00,978.25 L719.00,978.24 L720.00,978.23 L721.00,978.22 L722.00,978.22 L723.00,978.21 L724.00,978.21 L725.00,978.20 L726.00,978.20 L727.00,978.19 L728.00,978.19 L729.00,978.19 L730.00,978.19 L731.00,978.19 L732.00,978.19 L733.00,978.19 L734.00,978.19 L735.00,978.19 L736.00,978.19 L737.00,978.20 L738.00,978.20 L739.00,978.20 L740.00,978.21 L741.00,978.21 L742.00,978.22 L743.00,978.22 L744.00,978.23 L745.00,978.23 L746.00,978.24 L747.00,978.25 L748.00,978.25 L749.00,978.26 L750.00,978.27 L751.00,978.28 L752.00,978.29 L753.00,978.30 L754.00,978.31 L755.00,978.31 L756.00,978.32 L757.00,978.33 L758.00,978.34 L759.00,978.36 L760.00,978.37 L761.00,978.38 L762.00,978.39 L763.00,978.40 L764.00,978.41 L765.00,978.42 L766.00,978.43 L767.00,978.45 L768.00,978.46 L769.00,978.47 L770.00,978.48 L771.00,978.49 L772.00,978.51 L773.00,978.52 L774.00,978.53 L775.00,978.54 L776.00,978.55 L777.00,978.57 L778.00,978.58 L779.00,978.59 L780.00,978.60 L781.00,978.61 L782.00,978.63 L783.00,978.64 L784.00,978.65 L785.00,978.66 L786.00,978.67 L787.00,978.68 L788.00,978.70 L789.00,978.71 L790.00,978.72 L791.00,978.73 L792.00,978.74 L793.00,978.75 L794.00,978.76 L795.00,978.77 L796.00,978.78 L797.00,978.79 L798.00,978.79 L799.00,978.80 L800.00,978.81 L801.00,978.82 L802.00,978.83 L803.00,978.83 L804.00,978.84 L805.00,978.85 L806.00,978.85 L807.00,978.86 L808.00,978.86 L809.00,978.87 L810.00,978.87 L811.00,978.88 L812.00,978.88 L813.00,978.88 L814.00,978.88 L815.00,978.89 L816.00,978.89 L817.00,978.89 L818.00,978.89 L819.00,978.89 L820.00,978.89 L821.00,978.89 L822.00,978.88 L823.00,978.88 L824.00,978.88 L825.00,978.87 L826.00,978.87 L827.00,978.86 L828.00,978.86 L829.00,978.85 L830.00,978.84 L831.00,978.83 L832.00,978.83 L833.00,978.82 L834.00,978.81 L835.00,978.79 L836.00,978.78 L837.00,978.77 L838.00,978.76 L839.00,978.74 L840.00,978.73 L841.00,978.71 L842.00,978.69 L843.00,978.67 L844.00,978.66 L845.00,978.64 L846.00,978.61 L847.00,978.59 L848.00,978.57 L849.00,978.55 L850.00,978.52 L851.00,978.50 L852.00,978.47 L853.00,978.44 L854.00,978.41 L855.00,978.38 L856.00,978.35 L857.00,978.32" fill="none" stroke="#5e5e5e" stroke-width="7.5" stroke-linejoin="round" stroke-dasharray="26 9" stroke-dashoffset="19.09"/>
<path d="M153.00,978.50 L180.00,978.50 L200.00,978.30 L208.00,977.79 L209.00,978.07 L210.00,978.22 L211.00,978.26 L212.00,978.16 L213.00,977.95 L214.00,977.63 L215.00,977.18 L216.00,976.62 L217.00,975.95 L218.00,975.17 L219.00,974.28 L220.00,973.29 L221.00,972.18 L222.00,970.98 L223.00,969.67 L224.00,968.26 L225.00,966.76 L226.00,965.15 L227.00,963.45 L228.00,961.66 L229.00,959.78 L230.00,957.81 L231.00,955.75 L232.00,953.60 L233.00,951.37 L234.00,949.06 L235.00,946.66 L236.00,944.19 L237.00,941.64 L238.00,939.02 L239.00,936.33 L240.00,933.56 L241.00,930.73 L242.00,927.83 L243.00,924.86 L244.00,921.83 L245.00,918.74 L246.00,915.59 L247.00,912.39 L248.00,909.12 L249.00,905.81 L250.00,902.44 L251.00,899.02 L252.00,895.56 L253.00,892.05 L254.00,888.49 L255.00,884.90 L256.00,881.26 L257.00,877.59 L258.00,873.87 L259.00,870.13 L260.00,866.35 L261.00,862.53 L262.00,858.69 L263.00,854.82 L264.00,850.92 L265.00,846.99 L266.00,843.04 L267.00,839.07 L268.00,835.07 L269.00,831.05 L270.00,827.01 L271.00,822.96 L272.00,818.89 L273.00,814.80 L274.00,810.70 L275.00,806.59 L276.00,802.47 L277.00,798.34 L278.00,794.20 L279.00,790.06 L280.00,785.91 L281.00,781.77 L282.00,777.63 L283.00,773.49 L284.00,769.37 L285.00,765.27 L286.00,761.18 L287.00,757.12 L288.00,753.08 L289.00,749.06 L290.00,745.08 L291.00,741.14 L292.00,737.23 L293.00,733.37 L294.00,729.55 L295.00,725.78 L296.00,722.06 L297.00,718.40 L298.00,714.79 L299.00,711.25 L300.00,707.77 L301.00,704.35 L302.00,701.00 L303.00,697.71 L304.00,694.48 L305.00,691.32 L306.00,688.23 L307.00,685.20 L308.00,682.23 L309.00,679.33 L310.00,676.50 L311.00,673.73 L312.00,671.03 L313.00,668.39 L314.00,665.82 L315.00,663.32 L316.00,660.89 L317.00,658.52 L318.00,656.23 L319.00,654.00 L320.00,651.84 L321.00,649.75 L322.00,647.72 L323.00,645.77 L324.00,643.89 L325.00,642.08 L326.00,640.34 L327.00,638.66 L328.00,637.06 L329.00,635.54 L330.00,634.08 L331.00,632.69 L332.00,631.38 L333.00,630.14 L334.00,628.97 L335.00,627.88 L336.00,626.85 L337.00,625.91 L338.00,625.03 L339.00,624.23 L340.00,623.51 L341.00,622.85 L342.00,622.28 L343.00,621.78 L344.00,621.35 L345.00,621.00 L346.00,620.73 L347.00,620.53 L348.00,620.41 L349.00,620.37 L350.00,620.41 L351.00,620.52 L352.00,620.71 L353.00,620.97 L354.00,621.32 L355.00,621.75 L356.00,622.25 L357.00,622.83 L358.00,623.49 L359.00,624.23 L360.00,625.04 L361.00,625.92 L362.00,626.87 L363.00,627.89 L364.00,628.97 L365.00,630.12 L366.00,631.33 L367.00,632.60 L368.00,633.93 L369.00,635.31 L370.00,636.75 L371.00,638.24 L372.00,639.79 L373.00,641.38 L374.00,643.01 L375.00,644.69 L376.00,646.42 L377.00,648.18 L378.00,649.99 L379.00,651.83 L380.00,653.70 L381.00,655.61 L382.00,657.55 L383.00,659.52 L384.00,661.52 L385.00,663.54 L386.00,665.59 L387.00,667.66 L388.00,669.74 L389.00,671.85 L390.00,673.97 L391.00,676.10 L392.00,678.25 L393.00,680.41 L394.00,682.57 L395.00,684.74 L396.00,686.92 L397.00,689.10 L398.00,691.29 L399.00,693.48 L400.00,695.68 L401.00,697.88 L402.00,700.08 L403.00,702.29 L404.00,704.50 L405.00,706.72 L406.00,708.93 L407.00,711.15 L408.00,713.37 L409.00,715.59 L410.00,717.81 L411.00,720.03 L412.00,722.25 L413.00,724.47 L414.00,726.69 L415.00,728.91 L416.00,731.13 L417.00,733.34 L418.00,735.56 L419.00,737.77 L420.00,739.98 L421.00,742.18 L422.00,744.38 L423.00,746.58 L424.00,748.77 L425.00,750.96 L426.00,753.14 L427.00,755.32 L428.00,757.49 L429.00,759.66 L430.00,761.82 L431.00,763.97 L432.00,766.12 L433.00,768.26 L434.00,770.39 L435.00,772.51 L436.00,774.63 L437.00,776.73 L438.00,778.83 L439.00,780.92 L440.00,783.00 L441.00,785.07 L442.00,787.14 L443.00,789.19 L444.00,791.23 L445.00,793.27 L446.00,795.29 L447.00,797.30 L448.00,799.30 L449.00,801.29 L450.00,803.27 L451.00,805.23 L452.00,807.19 L453.00,809.13 L454.00,811.06 L455.00,812.98 L456.00,814.88 L457.00,816.77 L458.00,818.65 L459.00,820.51 L460.00,822.36 L461.00,824.20 L462.00,826.02 L463.00,827.82 L464.00,829.62 L465.00,831.39 L466.00,833.15 L467.00,834.90 L468.00,836.63 L469.00,838.35 L470.00,840.05 L471.00,841.74 L472.00,843.42 L473.00,845.09 L474.00,846.75 L475.00,848.40 L476.00,850.04 L477.00,851.68 L478.00,853.31 L479.00,854.93 L480.00,856.55 L481.00,858.16 L482.00,859.78 L483.00,861.39 L484.00,863.00 L485.00,864.60 L486.00,866.21 L487.00,867.82 L488.00,869.44 L489.00,871.05 L490.00,872.67 L491.00,874.29 L492.00,875.91 L493.00,877.53 L494.00,879.14 L495.00,880.75 L496.00,882.36 L497.00,883.97 L498.00,885.56 L499.00,887.15 L500.00,888.73 L501.00,890.30 L502.00,891.86 L503.00,893.41 L504.00,894.94 L505.00,896.46 L506.00,897.96 L507.00,899.45 L508.00,900.92 L509.00,902.37 L510.00,903.80 L511.00,905.21 L512.00,906.60 L513.00,907.96 L514.00,909.31 L515.00,910.63 L516.00,911.93 L517.00,913.21 L518.00,914.47 L519.00,915.70 L520.00,916.92 L521.00,918.12 L522.00,919.29 L523.00,920.45 L524.00,921.59 L525.00,922.70 L526.00,923.80 L527.00,924.88 L528.00,925.94 L529.00,926.98 L530.00,928.00 L531.00,929.01 L532.00,929.99 L533.00,930.96 L534.00,931.92 L535.00,932.85 L536.00,933.77 L537.00,934.67 L538.00,935.55 L539.00,936.42 L540.00,937.27 L541.00,938.10 L542.00,938.92 L543.00,939.73 L544.00,940.51 L545.00,941.29 L546.00,942.05 L547.00,942.79 L548.00,943.52 L549.00,944.23 L550.00,944.93 L551.00,945.62 L552.00,946.29 L553.00,946.95 L554.00,947.60 L555.00,948.23 L556.00,948.85 L557.00,949.46 L558.00,950.06 L559.00,950.64 L560.00,951.21 L561.00,951.77 L562.00,952.32 L563.00,952.86 L564.00,953.39 L565.00,953.90 L566.00,954.41 L567.00,954.90 L568.00,955.39 L569.00,955.86 L570.00,956.33 L571.00,956.78 L572.00,957.23 L573.00,957.66 L574.00,958.09 L575.00,958.51 L576.00,958.92 L577.00,959.33 L578.00,959.72 L579.00,960.11 L580.00,960.49 L581.00,960.86 L582.00,961.22 L583.00,961.57 L584.00,961.92 L585.00,962.26 L586.00,962.59 L587.00,962.91 L588.00,963.23 L589.00,963.54 L590.00,963.84 L591.00,964.14 L592.00,964.43 L593.00,964.71 L594.00,964.98 L595.00,965.25 L596.00,965.51 L597.00,965.77 L598.00,966.02 L599.00,966.26 L600.00,966.49 L601.00,966.72 L602.00,966.95 L603.00,967.17 L604.00,967.38 L605.00,967.58 L606.00,967.79 L607.00,967.98 L608.00,968.17 L609.00,968.36 L610.00,968.53 L611.00,968.71 L612.00,968.88 L613.00,969.04 L614.00,969.20 L615.00,969.36 L616.00,969.51 L617.00,969.65 L618.00,969.79 L619.00,969.93 L620.00,970.06 L621.00,970.19 L622.00,970.32 L623.00,970.44 L624.00,970.55 L625.00,970.66 L626.00,970.77 L627.00,970.88 L628.00,970.98 L629.00,971.08 L630.00,971.17 L631.00,971.27 L632.00,971.35 L633.00,971.44 L634.00,971.52 L635.00,971.60 L636.00,971.68 L637.00,971.76 L638.00,971.83 L639.00,971.90 L640.00,971.96 L641.00,972.03 L642.00,972.09 L643.00,972.15 L644.00,972.21 L645.00,972.27 L646.00,972.32 L647.00,972.38 L648.00,972.43 L649.00,972.48 L650.00,972.53 L651.00,972.58 L652.00,972.63 L653.00,972.67 L654.00,972.72 L655.00,972.76 L656.00,972.80 L657.00,972.84 L658.00,972.89 L659.00,972.93 L660.00,972.97 L661.00,973.01 L662.00,973.05 L663.00,973.09 L664.00,973.13 L665.00,973.17 L666.00,973.21 L667.00,973.24 L668.00,973.28 L669.00,973.32 L670.00,973.36 L671.00,973.40 L672.00,973.43 L673.00,973.47 L674.00,973.51 L675.00,973.54 L676.00,973.58 L677.00,973.61 L678.00,973.65 L679.00,973.68 L680.00,973.72 L681.00,973.75 L682.00,973.79 L683.00,973.82 L684.00,973.85 L685.00,973.88 L686.00,973.92 L687.00,973.95 L688.00,973.98 L689.00,974.01 L690.00,974.04 L691.00,974.08 L692.00,974.11 L693.00,974.14 L694.00,974.17 L695.00,974.20 L696.00,974.23 L697.00,974.26 L698.00,974.28 L699.00,974.31 L700.00,974.34 L701.00,974.37 L702.00,974.40 L703.00,974.42 L704.00,974.45 L705.00,974.48 L706.00,974.50 L707.00,974.53 L708.00,974.56 L709.00,974.58 L710.00,974.61 L711.00,974.63 L712.00,974.66 L713.00,974.68 L714.00,974.70 L715.00,974.73 L716.00,974.75 L717.00,974.77 L718.00,974.80 L719.00,974.82 L720.00,974.84 L721.00,974.86 L722.00,974.88 L723.00,974.91 L724.00,974.93 L725.00,974.95 L726.00,974.97 L727.00,974.99 L728.00,975.01 L729.00,975.03 L730.00,975.05 L731.00,975.07 L732.00,975.08 L733.00,975.10 L734.00,975.12 L735.00,975.14 L736.00,975.15 L737.00,975.17 L738.00,975.19 L739.00,975.21 L740.00,975.22 L741.00,975.24 L742.00,975.25 L743.00,975.27 L744.00,975.28 L745.00,975.30 L746.00,975.31 L747.00,975.33 L748.00,975.34 L749.00,975.35 L750.00,975.37 L751.00,975.38 L752.00,975.39 L753.00,975.40 L754.00,975.42 L755.00,975.43 L756.00,975.44 L757.00,975.45 L758.00,975.46 L759.00,975.47 L760.00,975.48 L761.00,975.49 L762.00,975.50 L763.00,975.51 L764.00,975.52 L765.00,975.53 L766.00,975.54 L767.00,975.55 L768.00,975.55 L769.00,975.56 L770.00,975.57 L771.00,975.58 L772.00,975.58 L773.00,975.59 L774.00,975.59 L775.00,975.60 L776.00,975.61 L777.00,975.61 L778.00,975.62 L779.00,975.62 L780.00,975.63 L781.00,975.63 L782.00,975.63 L783.00,975.64 L784.00,975.64 L785.00,975.64 L786.00,975.65 L787.00,975.65 L788.00,975.65 L789.00,975.65 L790.00,975.65 L791.00,975.66 L792.00,975.66 L793.00,975.66 L794.00,975.66 L795.00,975.66 L796.00,975.66 L797.00,975.66 L798.00,975.66 L799.00,975.66 L800.00,975.65 L801.00,975.65 L802.00,975.65 L803.00,975.65 L804.00,975.65 L805.00,975.64 L806.00,975.64 L807.00,975.64 L808.00,975.63 L809.00,975.63 L810.00,975.63 L811.00,975.62 L812.00,975.62 L813.00,975.61 L814.00,975.61 L815.00,975.60 L816.00,975.60 L817.00,975.59 L818.00,975.58 L819.00,975.58 L820.00,975.57 L821.00,975.56 L822.00,975.56 L823.00,975.55 L824.00,975.54 L825.00,975.53 L826.00,975.52 L827.00,975.52 L828.00,975.51 L829.00,975.50 L830.00,975.49 L831.00,975.48 L832.00,975.47 L833.00,975.46 L834.00,975.45 L835.00,975.44 L836.00,975.42 L837.00,975.41 L838.00,975.40 L839.00,975.39 L840.00,975.38 L841.00,975.36 L842.00,975.35 L843.00,975.34 L844.00,975.32 L845.00,975.31 L846.00,975.30 L847.00,975.28 L848.00,975.27 L849.00,975.25 L850.00,975.24 L851.00,975.22 L852.00,975.21 L853.00,975.19 L854.00,975.18 L855.00,975.16 L856.00,975.14 L857.00,975.13" fill="none" stroke="#a2a2a2" stroke-width="7.2" stroke-linejoin="round" stroke-dasharray="6.5 14.5" stroke-dashoffset="0.26" stroke-linecap="round"/>
<text x="736.17" y="674" font-size="38.2" fill="#000" textLength="138.91" lengthAdjust="spacingAndGlyphs">Iso 1 µM</text>
<text x="736.89" y="800.2" font-size="37.6" fill="#000" textLength="229.4" lengthAdjust="spacingAndGlyphs">CANT 100 µM</text>
<text x="736.83" y="884.9" font-size="37.3" fill="#000" textLength="49.75" lengthAdjust="spacingAndGlyphs">Ctr</text>
<text x="1010.59" y="512.3" font-size="60" fill="#000" textLength="43.44" lengthAdjust="spacingAndGlyphs">C</text>
<line x1="1165.4" y1="508.8" x2="1165.4" y2="980.8" stroke="#000" stroke-width="2.6"/>
<line x1="1165.4" y1="791.8" x2="1874" y2="791.8" stroke="#000" stroke-width="2.6"/>
<line x1="1150.6" y1="510.1" x2="1165.4" y2="510.1" stroke="#000" stroke-width="2.6"/>
<text x="1072.04" y="523.3" font-size="38" font-weight="bold" fill="#000" textLength="76.51" lengthAdjust="spacingAndGlyphs">1500</text>
<line x1="1150.6" y1="604.2" x2="1165.4" y2="604.2" stroke="#000" stroke-width="2.6"/>
<text x="1072.04" y="617.4" font-size="38" font-weight="bold" fill="#000" textLength="76.51" lengthAdjust="spacingAndGlyphs">1000</text>
<line x1="1150.6" y1="698.4" x2="1165.4" y2="698.4" stroke="#000" stroke-width="2.6"/>
<text x="1091.13" y="711.6" font-size="38" font-weight="bold" fill="#000" textLength="57.38" lengthAdjust="spacingAndGlyphs">500</text>
<line x1="1150.6" y1="792.2" x2="1165.4" y2="792.2" stroke="#000" stroke-width="2.6"/>
<text x="1129.39" y="805.4" font-size="38" font-weight="bold" fill="#000" textLength="19.13" lengthAdjust="spacingAndGlyphs">0</text>
<line x1="1150.6" y1="886.5" x2="1165.4" y2="886.5" stroke="#000" stroke-width="2.6"/>
<text x="1079.7" y="899.7" font-size="38" font-weight="bold" fill="#000" textLength="68.83" lengthAdjust="spacingAndGlyphs">-500</text>
<line x1="1150.6" y1="979.5" x2="1165.4" y2="979.5" stroke="#000" stroke-width="2.6"/>
<text x="1060.52" y="992.7" font-size="38" font-weight="bold" fill="#000" textLength="87.96" lengthAdjust="spacingAndGlyphs">-1000</text>
<line x1="1306.7" y1="791.8" x2="1306.7" y2="806.4" stroke="#000" stroke-width="2.6"/>
<text x="1287.7" y="842.7" font-size="38" font-weight="bold" fill="#000" textLength="38.25" lengthAdjust="spacingAndGlyphs">20</text>
<line x1="1448" y1="791.8" x2="1448" y2="806.4" stroke="#000" stroke-width="2.6"/>
<text x="1429.34" y="842.7" font-size="38" font-weight="bold" fill="#000" textLength="38.25" lengthAdjust="spacingAndGlyphs">40</text>
<line x1="1589.3" y1="791.8" x2="1589.3" y2="806.4" stroke="#000" stroke-width="2.6"/>
<text x="1570.26" y="842.7" font-size="38" font-weight="bold" fill="#000" textLength="38.25" lengthAdjust="spacingAndGlyphs">60</text>
<line x1="1730.6" y1="791.8" x2="1730.6" y2="806.4" stroke="#000" stroke-width="2.6"/>
<text x="1711.64" y="842.7" font-size="38" font-weight="bold" fill="#000" textLength="38.25" lengthAdjust="spacingAndGlyphs">80</text>
<line x1="1871.9" y1="791.8" x2="1871.9" y2="806.4" stroke="#000" stroke-width="2.6"/>
<text x="1842.84" y="842.7" font-size="38" font-weight="bold" fill="#000" textLength="57.38" lengthAdjust="spacingAndGlyphs">100</text>
<text x="1437.65" y="1028.6" font-size="38" font-weight="bold" fill="#000" textLength="162.68" lengthAdjust="spacingAndGlyphs">Time (ms)</text>
<text transform="translate(1043.6,843.18) rotate(-90)" x="0" y="0" font-size="38" font-weight="bold" fill="#000" textLength="201.41" lengthAdjust="spacingAndGlyphs">dF/dt (mN/s)</text>
<line x1="1309.7" y1="633.6" x2="1611.5" y2="633.6" stroke="#a8a8a8" stroke-width="2.2"/>
<line x1="1332.1" y1="704.7" x2="1611.5" y2="704.7" stroke="#585858" stroke-width="2.1"/>
<line x1="1351" y1="754.8" x2="1612.7" y2="754.8" stroke="#000000" stroke-width="2.4"/>
<path d="M1170.00,795.50 L1195.00,795.80 L1196.00,795.71 L1197.00,795.58 L1198.00,795.42 L1199.00,795.23 L1200.00,795.01 L1201.00,794.75 L1202.00,794.47 L1203.00,794.15 L1204.00,793.81 L1205.00,793.44 L1206.00,793.04 L1207.00,792.61 L1208.00,792.16 L1209.00,791.68 L1210.00,791.17 L1211.00,790.64 L1212.00,790.09 L1213.00,789.51 L1214.00,788.91 L1215.00,788.29 L1216.00,787.64 L1217.00,786.98 L1218.00,786.29 L1219.00,785.59 L1220.00,784.87 L1221.00,784.12 L1222.00,783.36 L1223.00,782.59 L1224.00,781.79 L1225.00,780.98 L1226.00,780.16 L1227.00,779.32 L1228.00,778.47 L1229.00,777.60 L1230.00,776.73 L1231.00,775.84 L1232.00,774.93 L1233.00,774.02 L1234.00,773.10 L1235.00,772.17 L1236.00,771.23 L1237.00,770.28 L1238.00,769.32 L1239.00,768.36 L1240.00,767.39 L1241.00,766.41 L1242.00,765.43 L1243.00,764.45 L1244.00,763.46 L1245.00,762.47 L1246.00,761.48 L1247.00,760.48 L1248.00,759.49 L1249.00,758.49 L1250.00,757.49 L1251.00,756.50 L1252.00,755.50 L1253.00,754.51 L1254.00,753.52 L1255.00,752.53 L1256.00,751.55 L1257.00,750.57 L1258.00,749.60 L1259.00,748.63 L1260.00,747.67 L1261.00,746.72 L1262.00,745.77 L1263.00,744.83 L1264.00,743.90 L1265.00,742.99 L1266.00,742.08 L1267.00,741.18 L1268.00,740.29 L1269.00,739.42 L1270.00,738.56 L1271.00,737.71 L1272.00,736.88 L1273.00,736.06 L1274.00,735.26 L1275.00,734.47 L1276.00,733.70 L1277.00,732.95 L1278.00,732.21 L1279.00,731.49 L1280.00,730.80 L1281.00,730.12 L1282.00,729.46 L1283.00,728.83 L1284.00,728.21 L1285.00,727.62 L1286.00,727.04 L1287.00,726.49 L1288.00,725.96 L1289.00,725.46 L1290.00,724.98 L1291.00,724.52 L1292.00,724.08 L1293.00,723.67 L1294.00,723.28 L1295.00,722.92 L1296.00,722.58 L1297.00,722.27 L1298.00,721.98 L1299.00,721.72 L1300.00,721.49 L1301.00,721.28 L1302.00,721.10 L1303.00,720.94 L1304.00,720.82 L1305.00,720.72 L1306.00,720.65 L1307.00,720.61 L1308.00,720.60 L1309.00,720.62 L1310.00,720.66 L1311.00,720.74 L1312.00,720.85 L1313.00,720.99 L1314.00,721.16 L1315.00,721.36 L1316.00,721.59 L1317.00,721.85 L1318.00,722.15 L1319.00,722.48 L1320.00,722.84 L1321.00,723.24 L1322.00,723.67 L1323.00,724.13 L1324.00,724.63 L1325.00,725.16 L1326.00,725.72 L1327.00,726.32 L1328.00,726.95 L1329.00,727.61 L1330.00,728.30 L1331.00,729.02 L1332.00,729.77 L1333.00,730.54 L1334.00,731.35 L1335.00,732.17 L1336.00,733.03 L1337.00,733.91 L1338.00,734.81 L1339.00,735.73 L1340.00,736.68 L1341.00,737.65 L1342.00,738.64 L1343.00,739.64 L1344.00,740.67 L1345.00,741.72 L1346.00,742.78 L1347.00,743.86 L1348.00,744.95 L1349.00,746.06 L1350.00,747.18 L1351.00,748.32 L1352.00,749.47 L1353.00,750.63 L1354.00,751.80 L1355.00,752.98 L1356.00,754.17 L1357.00,755.37 L1358.00,756.58 L1359.00,757.79 L1360.00,759.01 L1361.00,760.24 L1362.00,761.47 L1363.00,762.70 L1364.00,763.94 L1365.00,765.18 L1366.00,766.42 L1367.00,767.67 L1368.00,768.91 L1369.00,770.16 L1370.00,771.41 L1371.00,772.65 L1372.00,773.90 L1373.00,775.14 L1374.00,776.38 L1375.00,777.61 L1376.00,778.85 L1377.00,780.07 L1378.00,781.30 L1379.00,782.51 L1380.00,783.72 L1381.00,784.92 L1382.00,786.12 L1383.00,787.31 L1384.00,788.48 L1385.00,789.65 L1386.00,790.81 L1387.00,791.95 L1388.00,793.09 L1389.00,794.21 L1390.00,795.32 L1391.00,796.42 L1392.00,797.50 L1393.00,798.56 L1394.00,799.62 L1395.00,800.65 L1396.00,801.67 L1397.00,802.67 L1398.00,803.65 L1399.00,804.62 L1400.00,805.56 L1401.00,806.49 L1402.00,807.39 L1403.00,808.28 L1404.00,809.14 L1405.00,809.98 L1406.00,810.80 L1407.00,811.59 L1408.00,812.36 L1409.00,813.11 L1410.00,813.83 L1411.00,814.53 L1412.00,815.21 L1413.00,815.87 L1414.00,816.51 L1415.00,817.12 L1416.00,817.72 L1417.00,818.29 L1418.00,818.85 L1419.00,819.39 L1420.00,819.90 L1421.00,820.40 L1422.00,820.89 L1423.00,821.35 L1424.00,821.80 L1425.00,822.23 L1426.00,822.64 L1427.00,823.04 L1428.00,823.42 L1429.00,823.79 L1430.00,824.14 L1431.00,824.48 L1432.00,824.80 L1433.00,825.11 L1434.00,825.40 L1435.00,825.69 L1436.00,825.96 L1437.00,826.22 L1438.00,826.46 L1439.00,826.70 L1440.00,826.92 L1441.00,827.14 L1442.00,827.34 L1443.00,827.53 L1444.00,827.72 L1445.00,827.89 L1446.00,828.06 L1447.00,828.22 L1448.00,828.37 L1449.00,828.51 L1450.00,828.64 L1451.00,828.77 L1452.00,828.88 L1453.00,828.99 L1454.00,829.09 L1455.00,829.18 L1456.00,829.26 L1457.00,829.34 L1458.00,829.41 L1459.00,829.46 L1460.00,829.52 L1461.00,829.56 L1462.00,829.60 L1463.00,829.63 L1464.00,829.65 L1465.00,829.66 L1466.00,829.67 L1467.00,829.67 L1468.00,829.67 L1469.00,829.65 L1470.00,829.63 L1471.00,829.61 L1472.00,829.57 L1473.00,829.53 L1474.00,829.48 L1475.00,829.43 L1476.00,829.37 L1477.00,829.31 L1478.00,829.23 L1479.00,829.15 L1480.00,829.07 L1481.00,828.98 L1482.00,828.88 L1483.00,828.78 L1484.00,828.67 L1485.00,828.56 L1486.00,828.44 L1487.00,828.32 L1488.00,828.19 L1489.00,828.05 L1490.00,827.91 L1491.00,827.77 L1492.00,827.62 L1493.00,827.46 L1494.00,827.30 L1495.00,827.14 L1496.00,826.97 L1497.00,826.79 L1498.00,826.61 L1499.00,826.43 L1500.00,826.24 L1501.00,826.05 L1502.00,825.85 L1503.00,825.65 L1504.00,825.45 L1505.00,825.24 L1506.00,825.03 L1507.00,824.81 L1508.00,824.59 L1509.00,824.37 L1510.00,824.14 L1511.00,823.91 L1512.00,823.67 L1513.00,823.44 L1514.00,823.20 L1515.00,822.95 L1516.00,822.71 L1517.00,822.45 L1518.00,822.20 L1519.00,821.95 L1520.00,821.69 L1521.00,821.43 L1522.00,821.16 L1523.00,820.90 L1524.00,820.63 L1525.00,820.36 L1526.00,820.08 L1527.00,819.81 L1528.00,819.53 L1529.00,819.25 L1530.00,818.97 L1531.00,818.68 L1532.00,818.40 L1533.00,818.11 L1534.00,817.82 L1535.00,817.53 L1536.00,817.24 L1537.00,816.95 L1538.00,816.65 L1539.00,816.36 L1540.00,816.06 L1541.00,815.76 L1542.00,815.46 L1543.00,815.16 L1544.00,814.86 L1545.00,814.56 L1546.00,814.26 L1547.00,813.96 L1548.00,813.65 L1549.00,813.35 L1550.00,813.05 L1551.00,812.74 L1552.00,812.44 L1553.00,812.13 L1554.00,811.83 L1555.00,811.53 L1556.00,811.22 L1557.00,810.92 L1558.00,810.62 L1559.00,810.31 L1560.00,810.01 L1561.00,809.71 L1562.00,809.41 L1563.00,809.11 L1564.00,808.81 L1565.00,808.51 L1566.00,808.21 L1567.00,807.92 L1568.00,807.62 L1569.00,807.33 L1570.00,807.03 L1571.00,806.74 L1572.00,806.45 L1573.00,806.16 L1574.00,805.88 L1575.00,805.59 L1576.00,805.31 L1577.00,805.03 L1578.00,804.75 L1579.00,804.47 L1580.00,804.20 L1581.00,803.92 L1582.00,803.65 L1583.00,803.39 L1584.00,803.12 L1585.00,802.86 L1586.00,802.60 L1587.00,802.34 L1588.00,802.08 L1589.00,801.83 L1590.00,801.58 L1591.00,801.34 L1592.00,801.09 L1593.00,800.85 L1594.00,800.61 L1595.00,800.38 L1596.00,800.15 L1597.00,799.92 L1598.00,799.69 L1599.00,799.47 L1600.00,799.25 L1601.00,799.03 L1602.00,798.81 L1603.00,798.60 L1604.00,798.39 L1605.00,798.18 L1606.00,797.98 L1607.00,797.77 L1608.00,797.57 L1609.00,797.38 L1610.00,797.18 L1611.00,796.99 L1612.00,796.80 L1613.00,796.61 L1614.00,796.43 L1615.00,796.25 L1616.00,796.07 L1617.00,795.89 L1618.00,795.72 L1619.00,795.54 L1620.00,795.37 L1621.00,795.21 L1622.00,795.04 L1623.00,794.88 L1624.00,794.72 L1625.00,794.56 L1626.00,794.41 L1627.00,794.25 L1628.00,794.10 L1629.00,793.95 L1630.00,793.81 L1631.00,793.66 L1632.00,793.52 L1633.00,793.38 L1634.00,793.25 L1635.00,793.11 L1636.00,792.98 L1637.00,792.85 L1638.00,792.72 L1639.00,792.59 L1640.00,792.47 L1641.00,792.34 L1642.00,792.22 L1643.00,792.11 L1644.00,791.99 L1645.00,791.88 L1646.00,791.76 L1647.00,791.65 L1648.00,791.55 L1649.00,791.44 L1650.00,791.34 L1651.00,791.23 L1652.00,791.13 L1653.00,791.03 L1654.00,790.94 L1655.00,790.84 L1656.00,790.75 L1657.00,790.66 L1658.00,790.57 L1659.00,790.48 L1660.00,790.40 L1661.00,790.31 L1662.00,790.23 L1663.00,790.15 L1664.00,790.07 L1665.00,790.00 L1666.00,789.92 L1667.00,789.85 L1668.00,789.78 L1669.00,789.71 L1670.00,789.64 L1671.00,789.57 L1672.00,789.51 L1673.00,789.44 L1674.00,789.38 L1675.00,789.32 L1676.00,789.26 L1677.00,789.21 L1678.00,789.15 L1679.00,789.10 L1680.00,789.04 L1681.00,788.99 L1682.00,788.94 L1683.00,788.89 L1684.00,788.85 L1685.00,788.80 L1686.00,788.76 L1687.00,788.72 L1688.00,788.67 L1689.00,788.63 L1690.00,788.60 L1691.00,788.56 L1692.00,788.52 L1693.00,788.49 L1694.00,788.46 L1695.00,788.42 L1696.00,788.39 L1697.00,788.36 L1698.00,788.33 L1699.00,788.31 L1700.00,788.28 L1701.00,788.26 L1702.00,788.23 L1703.00,788.21 L1704.00,788.19 L1705.00,788.17 L1706.00,788.15 L1707.00,788.13 L1708.00,788.11 L1709.00,788.10 L1710.00,788.08 L1711.00,788.07 L1712.00,788.05 L1713.00,788.04 L1714.00,788.03 L1715.00,788.02 L1716.00,788.01 L1717.00,788.00 L1718.00,788.00 L1719.00,787.99 L1720.00,787.98 L1721.00,787.98 L1722.00,787.98 L1723.00,787.97 L1724.00,787.97 L1725.00,787.97 L1726.00,787.97 L1727.00,787.97 L1728.00,787.97 L1729.00,787.97 L1730.00,787.97 L1731.00,787.98 L1732.00,787.98 L1733.00,787.98 L1734.00,787.99 L1735.00,787.99 L1736.00,788.00 L1737.00,788.01 L1738.00,788.01 L1739.00,788.02 L1740.00,788.03 L1741.00,788.04 L1742.00,788.05 L1743.00,788.06 L1744.00,788.07 L1745.00,788.08 L1746.00,788.09 L1747.00,788.10 L1748.00,788.12 L1749.00,788.13 L1750.00,788.14 L1751.00,788.16 L1752.00,788.17 L1753.00,788.18 L1754.00,788.20 L1755.00,788.21 L1756.00,788.23 L1757.00,788.25 L1758.00,788.26 L1759.00,788.28 L1760.00,788.29 L1761.00,788.31 L1762.00,788.33 L1763.00,788.34 L1764.00,788.36 L1765.00,788.38 L1766.00,788.40 L1767.00,788.41 L1768.00,788.43 L1769.00,788.45 L1770.00,788.47 L1771.00,788.49 L1772.00,788.51 L1773.00,788.52 L1774.00,788.54 L1775.00,788.56 L1776.00,788.58 L1777.00,788.60 L1778.00,788.62 L1779.00,788.63 L1780.00,788.65 L1781.00,788.67 L1782.00,788.69 L1783.00,788.71 L1784.00,788.72 L1785.00,788.74 L1786.00,788.76 L1787.00,788.78 L1788.00,788.79 L1789.00,788.81 L1790.00,788.83 L1791.00,788.84 L1792.00,788.86 L1793.00,788.88 L1794.00,788.89 L1795.00,788.91 L1796.00,788.92 L1797.00,788.94 L1798.00,788.95 L1799.00,788.97 L1800.00,788.98 L1801.00,788.99 L1802.00,789.01 L1803.00,789.02 L1804.00,789.03 L1805.00,789.04 L1806.00,789.05 L1807.00,789.06 L1808.00,789.07 L1809.00,789.08 L1810.00,789.09 L1811.00,789.10 L1812.00,789.11 L1813.00,789.12 L1814.00,789.12 L1815.00,789.13 L1816.00,789.14 L1817.00,789.14 L1818.00,789.14 L1819.00,789.15 L1820.00,789.15 L1821.00,789.15 L1822.00,789.16 L1823.00,789.16 L1824.00,789.16 L1825.00,789.16 L1826.00,789.15 L1827.00,789.15 L1828.00,789.15 L1829.00,789.15 L1830.00,789.14 L1831.00,789.14 L1832.00,789.13 L1833.00,789.12 L1834.00,789.11 L1835.00,789.10 L1836.00,789.09 L1837.00,789.08 L1838.00,789.07 L1839.00,789.06 L1840.00,789.05 L1841.00,789.03 L1842.00,789.01 L1843.00,789.00 L1844.00,788.98 L1845.00,788.96 L1846.00,788.94 L1847.00,788.92 L1848.00,788.90 L1849.00,788.87 L1850.00,788.85 L1851.00,788.82 L1852.00,788.80 L1853.00,788.77 L1854.00,788.74 L1855.00,788.71 L1856.00,788.68 L1857.00,788.64 L1858.00,788.61 L1859.00,788.57 L1860.00,788.54 L1861.00,788.50 L1862.00,788.46 L1863.00,788.42 L1864.00,788.37 L1865.00,788.33 L1866.00,788.29 L1867.00,788.24 L1868.00,788.19 L1869.00,788.14 L1870.00,788.09 L1871.00,788.04 L1872.00,787.98 L1873.00,787.93" fill="none" stroke="#000" stroke-width="6.8" stroke-linejoin="round"/>
<path d="M1166.00,792.00 L1195.00,792.49 L1196.00,792.73 L1197.00,792.89 L1198.00,792.99 L1199.00,793.03 L1200.00,793.01 L1201.00,792.92 L1202.00,792.78 L1203.00,792.57 L1204.00,792.31 L1205.00,792.00 L1206.00,791.62 L1207.00,791.20 L1208.00,790.72 L1209.00,790.19 L1210.00,789.61 L1211.00,788.98 L1212.00,788.30 L1213.00,787.58 L1214.00,786.81 L1215.00,786.00 L1216.00,785.14 L1217.00,784.24 L1218.00,783.31 L1219.00,782.33 L1220.00,781.31 L1221.00,780.26 L1222.00,779.17 L1223.00,778.05 L1224.00,776.90 L1225.00,775.71 L1226.00,774.49 L1227.00,773.25 L1228.00,771.97 L1229.00,770.67 L1230.00,769.34 L1231.00,767.99 L1232.00,766.61 L1233.00,765.21 L1234.00,763.79 L1235.00,762.35 L1236.00,760.89 L1237.00,759.42 L1238.00,757.93 L1239.00,756.42 L1240.00,754.90 L1241.00,753.37 L1242.00,751.82 L1243.00,750.27 L1244.00,748.71 L1245.00,747.14 L1246.00,745.56 L1247.00,743.98 L1248.00,742.39 L1249.00,740.80 L1250.00,739.21 L1251.00,737.62 L1252.00,736.03 L1253.00,734.45 L1254.00,732.86 L1255.00,731.28 L1256.00,729.71 L1257.00,728.14 L1258.00,726.58 L1259.00,725.03 L1260.00,723.49 L1261.00,721.97 L1262.00,720.45 L1263.00,718.95 L1264.00,717.47 L1265.00,716.00 L1266.00,714.55 L1267.00,713.12 L1268.00,711.71 L1269.00,710.32 L1270.00,708.96 L1271.00,707.61 L1272.00,706.30 L1273.00,705.01 L1274.00,703.74 L1275.00,702.51 L1276.00,701.30 L1277.00,700.12 L1278.00,698.97 L1279.00,697.85 L1280.00,696.77 L1281.00,695.71 L1282.00,694.69 L1283.00,693.70 L1284.00,692.75 L1285.00,691.83 L1286.00,690.94 L1287.00,690.10 L1288.00,689.29 L1289.00,688.51 L1290.00,687.78 L1291.00,687.08 L1292.00,686.42 L1293.00,685.81 L1294.00,685.23 L1295.00,684.70 L1296.00,684.21 L1297.00,683.76 L1298.00,683.36 L1299.00,683.00 L1300.00,682.69 L1301.00,682.42 L1302.00,682.20 L1303.00,682.03 L1304.00,681.90 L1305.00,681.82 L1306.00,681.80 L1307.00,681.82 L1308.00,681.90 L1309.00,682.02 L1310.00,682.20 L1311.00,682.43 L1312.00,682.72 L1313.00,683.06 L1314.00,683.45 L1315.00,683.90 L1316.00,684.41 L1317.00,684.98 L1318.00,685.60 L1319.00,686.28 L1320.00,687.02 L1321.00,687.82 L1322.00,688.69 L1323.00,689.61 L1324.00,690.60 L1325.00,691.64 L1326.00,692.75 L1327.00,693.92 L1328.00,695.14 L1329.00,696.42 L1330.00,697.76 L1331.00,699.14 L1332.00,700.58 L1333.00,702.07 L1334.00,703.61 L1335.00,705.19 L1336.00,706.82 L1337.00,708.49 L1338.00,710.20 L1339.00,711.96 L1340.00,713.75 L1341.00,715.58 L1342.00,717.45 L1343.00,719.35 L1344.00,721.29 L1345.00,723.26 L1346.00,725.25 L1347.00,727.28 L1348.00,729.33 L1349.00,731.41 L1350.00,733.51 L1351.00,735.64 L1352.00,737.78 L1353.00,739.95 L1354.00,742.13 L1355.00,744.32 L1356.00,746.53 L1357.00,748.75 L1358.00,750.98 L1359.00,753.22 L1360.00,755.47 L1361.00,757.72 L1362.00,759.97 L1363.00,762.23 L1364.00,764.49 L1365.00,766.74 L1366.00,769.00 L1367.00,771.24 L1368.00,773.48 L1369.00,775.72 L1370.00,777.94 L1371.00,780.15 L1372.00,782.35 L1373.00,784.53 L1374.00,786.70 L1375.00,788.85 L1376.00,790.98 L1377.00,793.08 L1378.00,795.17 L1379.00,797.22 L1380.00,799.26 L1381.00,801.26 L1382.00,803.23 L1383.00,805.17 L1384.00,807.08 L1385.00,808.96 L1386.00,810.79 L1387.00,812.59 L1388.00,814.35 L1389.00,816.06 L1390.00,817.74 L1391.00,819.36 L1392.00,820.95 L1393.00,822.48 L1394.00,823.96 L1395.00,825.40 L1396.00,826.80 L1397.00,828.14 L1398.00,829.45 L1399.00,830.71 L1400.00,831.93 L1401.00,833.10 L1402.00,834.24 L1403.00,835.34 L1404.00,836.39 L1405.00,837.41 L1406.00,838.39 L1407.00,839.33 L1408.00,840.24 L1409.00,841.11 L1410.00,841.95 L1411.00,842.76 L1412.00,843.53 L1413.00,844.27 L1414.00,844.98 L1415.00,845.66 L1416.00,846.31 L1417.00,846.93 L1418.00,847.52 L1419.00,848.08 L1420.00,848.62 L1421.00,849.14 L1422.00,849.63 L1423.00,850.09 L1424.00,850.54 L1425.00,850.96 L1426.00,851.36 L1427.00,851.74 L1428.00,852.10 L1429.00,852.44 L1430.00,852.76 L1431.00,853.07 L1432.00,853.36 L1433.00,853.63 L1434.00,853.89 L1435.00,854.12 L1436.00,854.35 L1437.00,854.56 L1438.00,854.75 L1439.00,854.92 L1440.00,855.08 L1441.00,855.23 L1442.00,855.36 L1443.00,855.48 L1444.00,855.58 L1445.00,855.67 L1446.00,855.74 L1447.00,855.80 L1448.00,855.85 L1449.00,855.88 L1450.00,855.90 L1451.00,855.91 L1452.00,855.90 L1453.00,855.88 L1454.00,855.85 L1455.00,855.81 L1456.00,855.76 L1457.00,855.69 L1458.00,855.61 L1459.00,855.52 L1460.00,855.42 L1461.00,855.31 L1462.00,855.19 L1463.00,855.06 L1464.00,854.92 L1465.00,854.77 L1466.00,854.61 L1467.00,854.44 L1468.00,854.26 L1469.00,854.07 L1470.00,853.87 L1471.00,853.66 L1472.00,853.45 L1473.00,853.22 L1474.00,852.99 L1475.00,852.75 L1476.00,852.51 L1477.00,852.25 L1478.00,851.99 L1479.00,851.72 L1480.00,851.45 L1481.00,851.17 L1482.00,850.88 L1483.00,850.58 L1484.00,850.28 L1485.00,849.98 L1486.00,849.67 L1487.00,849.35 L1488.00,849.03 L1489.00,848.70 L1490.00,848.37 L1491.00,848.04 L1492.00,847.70 L1493.00,847.35 L1494.00,847.01 L1495.00,846.66 L1496.00,846.30 L1497.00,845.94 L1498.00,845.58 L1499.00,845.22 L1500.00,844.86 L1501.00,844.49 L1502.00,844.12 L1503.00,843.75 L1504.00,843.37 L1505.00,843.00 L1506.00,842.62 L1507.00,842.24 L1508.00,841.87 L1509.00,841.49 L1510.00,841.11 L1511.00,840.73 L1512.00,840.35 L1513.00,839.97 L1514.00,839.59 L1515.00,839.22 L1516.00,838.84 L1517.00,838.46 L1518.00,838.09 L1519.00,837.72 L1520.00,837.35 L1521.00,836.98 L1522.00,836.61 L1523.00,836.25 L1524.00,835.88 L1525.00,835.53 L1526.00,835.17 L1527.00,834.82 L1528.00,834.47 L1529.00,834.12 L1530.00,833.78 L1531.00,833.43 L1532.00,833.09 L1533.00,832.75 L1534.00,832.41 L1535.00,832.07 L1536.00,831.74 L1537.00,831.40 L1538.00,831.06 L1539.00,830.72 L1540.00,830.39 L1541.00,830.05 L1542.00,829.70 L1543.00,829.36 L1544.00,829.02 L1545.00,828.67 L1546.00,828.32 L1547.00,827.97 L1548.00,827.61 L1549.00,827.25 L1550.00,826.89 L1551.00,826.52 L1552.00,826.15 L1553.00,825.77 L1554.00,825.39 L1555.00,825.00 L1556.00,824.61 L1557.00,824.21 L1558.00,823.80 L1559.00,823.39 L1560.00,822.97 L1561.00,822.55 L1562.00,822.11 L1563.00,821.67 L1564.00,821.22 L1565.00,820.77 L1566.00,820.30 L1567.00,819.82 L1568.00,819.34 L1569.00,818.84 L1570.00,818.34 L1571.00,817.82 L1572.00,817.30 L1573.00,816.77 L1574.00,816.24 L1575.00,815.69 L1576.00,815.15 L1577.00,814.60 L1578.00,814.05 L1579.00,813.49 L1580.00,812.93 L1581.00,812.38 L1582.00,811.82 L1583.00,811.27 L1584.00,810.72 L1585.00,810.17 L1586.00,809.63 L1587.00,809.09 L1588.00,808.55 L1589.00,808.03 L1590.00,807.51 L1591.00,807.00 L1592.00,806.50 L1593.00,806.01 L1594.00,805.53 L1595.00,805.07 L1596.00,804.61 L1597.00,804.18 L1598.00,803.75 L1599.00,803.34 L1600.00,802.95 L1601.00,802.57 L1602.00,802.21 L1603.00,801.86 L1604.00,801.53 L1605.00,801.21 L1606.00,800.90 L1607.00,800.60 L1608.00,800.32 L1609.00,800.05 L1610.00,799.80 L1611.00,799.55 L1612.00,799.32 L1613.00,799.09 L1614.00,798.88 L1615.00,798.68 L1616.00,798.49 L1617.00,798.31 L1618.00,798.14 L1619.00,797.98 L1620.00,797.83 L1621.00,797.69 L1622.00,797.56 L1623.00,797.43 L1624.00,797.31 L1625.00,797.20 L1626.00,797.10 L1627.00,797.01 L1628.00,796.92 L1629.00,796.84 L1630.00,796.76 L1631.00,796.69 L1632.00,796.63 L1633.00,796.57 L1634.00,796.51 L1635.00,796.47 L1636.00,796.42 L1637.00,796.38 L1638.00,796.34 L1639.00,796.31 L1640.00,796.28 L1641.00,796.25 L1642.00,796.23 L1643.00,796.20 L1644.00,796.18 L1645.00,796.16 L1646.00,796.14 L1647.00,796.13 L1648.00,796.11 L1649.00,796.10 L1650.00,796.08 L1651.00,796.07 L1652.00,796.05 L1653.00,796.03 L1654.00,796.01 L1655.00,795.99 L1656.00,795.97 L1657.00,795.95 L1658.00,795.93 L1659.00,795.90 L1660.00,795.87 L1661.00,795.84 L1662.00,795.81 L1663.00,795.77 L1664.00,795.74 L1665.00,795.70 L1666.00,795.66 L1667.00,795.63 L1668.00,795.59 L1669.00,795.54 L1670.00,795.50 L1671.00,795.46 L1672.00,795.41 L1673.00,795.37 L1674.00,795.32 L1675.00,795.27 L1676.00,795.22 L1677.00,795.18 L1678.00,795.13 L1679.00,795.08 L1680.00,795.03 L1681.00,794.98 L1682.00,794.93 L1683.00,794.87 L1684.00,794.82 L1685.00,794.77 L1686.00,794.72 L1687.00,794.67 L1688.00,794.62 L1689.00,794.57 L1690.00,794.51 L1691.00,794.46 L1692.00,794.41 L1693.00,794.36 L1694.00,794.31 L1695.00,794.26 L1696.00,794.22 L1697.00,794.17 L1698.00,794.12 L1699.00,794.08 L1700.00,794.03 L1701.00,793.99 L1702.00,793.94 L1703.00,793.90 L1704.00,793.86 L1705.00,793.82 L1706.00,793.78 L1707.00,793.75 L1708.00,793.71 L1709.00,793.67 L1710.00,793.64 L1711.00,793.61 L1712.00,793.57 L1713.00,793.54 L1714.00,793.51 L1715.00,793.48 L1716.00,793.46 L1717.00,793.43 L1718.00,793.40 L1719.00,793.38 L1720.00,793.35 L1721.00,793.33 L1722.00,793.31 L1723.00,793.28 L1724.00,793.26 L1725.00,793.24 L1726.00,793.22 L1727.00,793.21 L1728.00,793.19 L1729.00,793.17 L1730.00,793.15 L1731.00,793.14 L1732.00,793.12 L1733.00,793.11 L1734.00,793.10 L1735.00,793.08 L1736.00,793.07 L1737.00,793.06 L1738.00,793.05 L1739.00,793.04 L1740.00,793.03 L1741.00,793.02 L1742.00,793.01 L1743.00,793.01 L1744.00,793.00 L1745.00,792.99 L1746.00,792.99 L1747.00,792.98 L1748.00,792.97 L1749.00,792.97 L1750.00,792.97 L1751.00,792.96 L1752.00,792.96 L1753.00,792.95 L1754.00,792.95 L1755.00,792.95 L1756.00,792.95 L1757.00,792.95 L1758.00,792.94 L1759.00,792.94 L1760.00,792.94 L1761.00,792.94 L1762.00,792.94 L1763.00,792.94 L1764.00,792.94 L1765.00,792.94 L1766.00,792.94 L1767.00,792.94 L1768.00,792.94 L1769.00,792.94 L1770.00,792.95 L1771.00,792.95 L1772.00,792.95 L1773.00,792.95 L1774.00,792.95 L1775.00,792.95 L1776.00,792.95 L1777.00,792.96 L1778.00,792.96 L1779.00,792.96 L1780.00,792.96 L1781.00,792.96 L1782.00,792.96 L1783.00,792.97 L1784.00,792.97 L1785.00,792.97 L1786.00,792.97 L1787.00,792.97 L1788.00,792.97 L1789.00,792.98 L1790.00,792.98 L1791.00,792.98 L1792.00,792.98 L1793.00,792.98 L1794.00,792.99 L1795.00,792.99 L1796.00,792.99 L1797.00,792.99 L1798.00,792.99 L1799.00,793.00 L1800.00,793.00 L1801.00,793.00 L1802.00,793.00 L1803.00,793.00 L1804.00,793.00 L1805.00,793.01 L1806.00,793.01 L1807.00,793.01 L1808.00,793.01 L1809.00,793.01 L1810.00,793.01 L1811.00,793.01 L1812.00,793.02 L1813.00,793.02 L1814.00,793.02 L1815.00,793.02 L1816.00,793.02 L1817.00,793.02 L1818.00,793.02 L1819.00,793.02 L1820.00,793.02 L1821.00,793.03 L1822.00,793.03 L1823.00,793.03 L1824.00,793.03 L1825.00,793.03 L1826.00,793.03 L1827.00,793.03 L1828.00,793.03 L1829.00,793.03 L1830.00,793.03 L1831.00,793.03 L1832.00,793.03 L1833.00,793.03 L1834.00,793.03 L1835.00,793.03 L1836.00,793.02 L1837.00,793.02 L1838.00,793.02 L1839.00,793.02 L1840.00,793.02 L1841.00,793.02 L1842.00,793.02 L1843.00,793.02 L1844.00,793.01 L1845.00,793.01 L1846.00,793.01 L1847.00,793.01 L1848.00,793.00 L1849.00,793.00 L1850.00,793.00 L1851.00,793.00 L1852.00,792.99 L1853.00,792.99 L1854.00,792.99 L1855.00,792.98 L1856.00,792.98 L1857.00,792.98 L1858.00,792.97 L1859.00,792.97 L1860.00,792.96 L1861.00,792.96 L1862.00,792.95 L1863.00,792.95 L1864.00,792.94 L1865.00,792.94 L1866.00,792.93 L1867.00,792.92 L1868.00,792.92 L1869.00,792.91 L1870.00,792.91 L1871.00,792.90 L1871.70,792.89" fill="none" stroke="#5e5e5e" stroke-width="7.5" stroke-linejoin="round" stroke-dasharray="26 9" stroke-dashoffset="7.48"/>
<path d="M1166.00,791.80 L1195.00,791.80 L1196.00,792.12 L1197.00,792.34 L1198.00,792.44 L1199.00,792.42 L1200.00,792.30 L1201.00,792.05 L1202.00,791.69 L1203.00,791.22 L1204.00,790.62 L1205.00,789.90 L1206.00,789.06 L1207.00,788.10 L1208.00,787.02 L1209.00,785.81 L1210.00,784.47 L1211.00,783.01 L1212.00,781.42 L1213.00,779.70 L1214.00,777.85 L1215.00,775.87 L1216.00,773.76 L1217.00,771.51 L1218.00,769.13 L1219.00,766.63 L1220.00,764.02 L1221.00,761.32 L1222.00,758.53 L1223.00,755.67 L1224.00,752.74 L1225.00,749.76 L1226.00,746.75 L1227.00,743.71 L1228.00,740.65 L1229.00,737.59 L1230.00,734.53 L1231.00,731.48 L1232.00,728.45 L1233.00,725.42 L1234.00,722.40 L1235.00,719.40 L1236.00,716.41 L1237.00,713.44 L1238.00,710.49 L1239.00,707.56 L1240.00,704.65 L1241.00,701.76 L1242.00,698.90 L1243.00,696.06 L1244.00,693.25 L1245.00,690.48 L1246.00,687.73 L1247.00,685.01 L1248.00,682.33 L1249.00,679.68 L1250.00,677.07 L1251.00,674.50 L1252.00,671.97 L1253.00,669.49 L1254.00,667.04 L1255.00,664.64 L1256.00,662.29 L1257.00,659.98 L1258.00,657.72 L1259.00,655.52 L1260.00,653.36 L1261.00,651.26 L1262.00,649.22 L1263.00,647.24 L1264.00,645.31 L1265.00,643.44 L1266.00,641.64 L1267.00,639.89 L1268.00,638.22 L1269.00,636.61 L1270.00,635.06 L1271.00,633.59 L1272.00,632.18 L1273.00,630.84 L1274.00,629.57 L1275.00,628.37 L1276.00,627.25 L1277.00,626.19 L1278.00,625.21 L1279.00,624.31 L1280.00,623.48 L1281.00,622.73 L1282.00,622.05 L1283.00,621.46 L1284.00,620.94 L1285.00,620.50 L1286.00,620.15 L1287.00,619.87 L1288.00,619.68 L1289.00,619.57 L1290.00,619.55 L1291.00,619.61 L1292.00,619.76 L1293.00,620.00 L1294.00,620.32 L1295.00,620.74 L1296.00,621.24 L1297.00,621.84 L1298.00,622.52 L1299.00,623.30 L1300.00,624.18 L1301.00,625.14 L1302.00,626.21 L1303.00,627.37 L1304.00,628.62 L1305.00,629.98 L1306.00,631.43 L1307.00,632.98 L1308.00,634.64 L1309.00,636.39 L1310.00,638.23 L1311.00,640.16 L1312.00,642.18 L1313.00,644.29 L1314.00,646.49 L1315.00,648.76 L1316.00,651.12 L1317.00,653.55 L1318.00,656.06 L1319.00,658.64 L1320.00,661.29 L1321.00,664.01 L1322.00,666.79 L1323.00,669.64 L1324.00,672.55 L1325.00,675.52 L1326.00,678.54 L1327.00,681.61 L1328.00,684.72 L1329.00,687.86 L1330.00,691.03 L1331.00,694.21 L1332.00,697.40 L1333.00,700.59 L1334.00,703.77 L1335.00,706.93 L1336.00,710.11 L1337.00,713.32 L1338.00,716.58 L1339.00,719.91 L1340.00,723.33 L1341.00,726.87 L1342.00,730.54 L1343.00,734.37 L1344.00,738.34 L1345.00,742.40 L1346.00,746.53 L1347.00,750.67 L1348.00,754.79 L1349.00,758.84 L1350.00,762.79 L1351.00,766.60 L1352.00,770.22 L1353.00,773.62 L1354.00,776.84 L1355.00,779.90 L1356.00,782.83 L1357.00,785.66 L1358.00,788.43 L1359.00,791.15 L1360.00,793.88 L1361.00,796.60 L1362.00,799.34 L1363.00,802.07 L1364.00,804.80 L1365.00,807.53 L1366.00,810.25 L1367.00,812.95 L1368.00,815.65 L1369.00,818.32 L1370.00,820.98 L1371.00,823.61 L1372.00,826.21 L1373.00,828.79 L1374.00,831.33 L1375.00,833.83 L1376.00,836.30 L1377.00,838.72 L1378.00,841.10 L1379.00,843.43 L1380.00,845.71 L1381.00,847.93 L1382.00,850.10 L1383.00,852.20 L1384.00,854.24 L1385.00,856.22 L1386.00,858.14 L1387.00,859.99 L1388.00,861.78 L1389.00,863.51 L1390.00,865.18 L1391.00,866.80 L1392.00,868.35 L1393.00,869.84 L1394.00,871.28 L1395.00,872.66 L1396.00,873.99 L1397.00,875.26 L1398.00,876.47 L1399.00,877.63 L1400.00,878.74 L1401.00,879.79 L1402.00,880.79 L1403.00,881.74 L1404.00,882.64 L1405.00,883.49 L1406.00,884.29 L1407.00,885.04 L1408.00,885.74 L1409.00,886.39 L1410.00,886.99 L1411.00,887.55 L1412.00,888.07 L1413.00,888.53 L1414.00,888.95 L1415.00,889.33 L1416.00,889.66 L1417.00,889.94 L1418.00,890.18 L1419.00,890.38 L1420.00,890.54 L1421.00,890.65 L1422.00,890.72 L1423.00,890.75 L1424.00,890.74 L1425.00,890.68 L1426.00,890.59 L1427.00,890.45 L1428.00,890.28 L1429.00,890.07 L1430.00,889.82 L1431.00,889.54 L1432.00,889.23 L1433.00,888.88 L1434.00,888.51 L1435.00,888.10 L1436.00,887.67 L1437.00,887.22 L1438.00,886.74 L1439.00,886.24 L1440.00,885.72 L1441.00,885.18 L1442.00,884.63 L1443.00,884.06 L1444.00,883.47 L1445.00,882.88 L1446.00,882.27 L1447.00,881.65 L1448.00,881.03 L1449.00,880.40 L1450.00,879.77 L1451.00,879.13 L1452.00,878.50 L1453.00,877.86 L1454.00,877.23 L1455.00,876.60 L1456.00,875.97 L1457.00,875.36 L1458.00,874.75 L1459.00,874.15 L1460.00,873.56 L1461.00,872.99 L1462.00,872.43 L1463.00,871.89 L1464.00,871.37 L1465.00,870.86 L1466.00,870.38 L1467.00,869.92 L1468.00,869.48 L1469.00,869.05 L1470.00,868.64 L1471.00,868.25 L1472.00,867.87 L1473.00,867.51 L1474.00,867.16 L1475.00,866.82 L1476.00,866.49 L1477.00,866.17 L1478.00,865.86 L1479.00,865.56 L1480.00,865.26 L1481.00,864.96 L1482.00,864.67 L1483.00,864.39 L1484.00,864.10 L1485.00,863.81 L1486.00,863.53 L1487.00,863.25 L1488.00,862.96 L1489.00,862.68 L1490.00,862.40 L1491.00,862.11 L1492.00,861.83 L1493.00,861.55 L1494.00,861.26 L1495.00,860.97 L1496.00,860.69 L1497.00,860.40 L1498.00,860.10 L1499.00,859.81 L1500.00,859.51 L1501.00,859.21 L1502.00,858.91 L1503.00,858.60 L1504.00,858.29 L1505.00,857.98 L1506.00,857.66 L1507.00,857.34 L1508.00,857.01 L1509.00,856.68 L1510.00,856.34 L1511.00,856.00 L1512.00,855.65 L1513.00,855.30 L1514.00,854.94 L1515.00,854.57 L1516.00,854.20 L1517.00,853.82 L1518.00,853.43 L1519.00,853.04 L1520.00,852.64 L1521.00,852.23 L1522.00,851.81 L1523.00,851.39 L1524.00,850.95 L1525.00,850.51 L1526.00,850.06 L1527.00,849.60 L1528.00,849.12 L1529.00,848.64 L1530.00,848.15 L1531.00,847.65 L1532.00,847.14 L1533.00,846.62 L1534.00,846.08 L1535.00,845.54 L1536.00,844.98 L1537.00,844.41 L1538.00,843.83 L1539.00,843.24 L1540.00,842.63 L1541.00,842.01 L1542.00,841.38 L1543.00,840.74 L1544.00,840.08 L1545.00,839.41 L1546.00,838.72 L1547.00,838.02 L1548.00,837.30 L1549.00,836.57 L1550.00,835.83 L1551.00,835.07 L1552.00,834.29 L1553.00,833.50 L1554.00,832.69 L1555.00,831.87 L1556.00,831.03 L1557.00,830.17 L1558.00,829.31 L1559.00,828.43 L1560.00,827.54 L1561.00,826.65 L1562.00,825.76 L1563.00,824.87 L1564.00,823.97 L1565.00,823.08 L1566.00,822.19 L1567.00,821.30 L1568.00,820.43 L1569.00,819.56 L1570.00,818.71 L1571.00,817.87 L1572.00,817.05 L1573.00,816.25 L1574.00,815.46 L1575.00,814.70 L1576.00,813.96 L1577.00,813.25 L1578.00,812.55 L1579.00,811.88 L1580.00,811.24 L1581.00,810.61 L1582.00,810.01 L1583.00,809.42 L1584.00,808.86 L1585.00,808.32 L1586.00,807.79 L1587.00,807.29 L1588.00,806.80 L1589.00,806.33 L1590.00,805.88 L1591.00,805.45 L1592.00,805.04 L1593.00,804.64 L1594.00,804.26 L1595.00,803.89 L1596.00,803.54 L1597.00,803.21 L1598.00,802.89 L1599.00,802.58 L1600.00,802.29 L1601.00,802.01 L1602.00,801.74 L1603.00,801.49 L1604.00,801.25 L1605.00,801.02 L1606.00,800.80 L1607.00,800.59 L1608.00,800.40 L1609.00,800.21 L1610.00,800.04 L1611.00,799.87 L1612.00,799.71 L1613.00,799.56 L1614.00,799.42 L1615.00,799.29 L1616.00,799.16 L1617.00,799.04 L1618.00,798.93 L1619.00,798.82 L1620.00,798.72 L1621.00,798.62 L1622.00,798.53 L1623.00,798.44 L1624.00,798.36 L1625.00,798.28 L1626.00,798.21 L1627.00,798.13 L1628.00,798.06 L1629.00,797.99 L1630.00,797.92 L1631.00,797.86 L1632.00,797.79 L1633.00,797.73 L1634.00,797.66 L1635.00,797.60 L1636.00,797.53 L1637.00,797.47 L1638.00,797.41 L1639.00,797.34 L1640.00,797.28 L1641.00,797.22 L1642.00,797.15 L1643.00,797.09 L1644.00,797.03 L1645.00,796.97 L1646.00,796.91 L1647.00,796.85 L1648.00,796.79 L1649.00,796.73 L1650.00,796.67 L1651.00,796.61 L1652.00,796.55 L1653.00,796.49 L1654.00,796.43 L1655.00,796.38 L1656.00,796.32 L1657.00,796.26 L1658.00,796.21 L1659.00,796.15 L1660.00,796.09 L1661.00,796.04 L1662.00,795.98 L1663.00,795.93 L1664.00,795.87 L1665.00,795.82 L1666.00,795.77 L1667.00,795.71 L1668.00,795.66 L1669.00,795.61 L1670.00,795.56 L1671.00,795.50 L1672.00,795.45 L1673.00,795.40 L1674.00,795.35 L1675.00,795.30 L1676.00,795.25 L1677.00,795.20 L1678.00,795.16 L1679.00,795.11 L1680.00,795.06 L1681.00,795.01 L1682.00,794.97 L1683.00,794.92 L1684.00,794.87 L1685.00,794.83 L1686.00,794.78 L1687.00,794.74 L1688.00,794.69 L1689.00,794.65 L1690.00,794.61 L1691.00,794.56 L1692.00,794.52 L1693.00,794.48 L1694.00,794.44 L1695.00,794.40 L1696.00,794.36 L1697.00,794.32 L1698.00,794.28 L1699.00,794.24 L1700.00,794.20 L1701.00,794.16 L1702.00,794.13 L1703.00,794.09 L1704.00,794.05 L1705.00,794.02 L1706.00,793.98 L1707.00,793.95 L1708.00,793.91 L1709.00,793.88 L1710.00,793.84 L1711.00,793.81 L1712.00,793.78 L1713.00,793.75 L1714.00,793.71 L1715.00,793.68 L1716.00,793.65 L1717.00,793.62 L1718.00,793.59 L1719.00,793.57 L1720.00,793.54 L1721.00,793.51 L1722.00,793.48 L1723.00,793.46 L1724.00,793.43 L1725.00,793.40 L1726.00,793.38 L1727.00,793.35 L1728.00,793.33 L1729.00,793.31 L1730.00,793.28 L1731.00,793.26 L1732.00,793.24 L1733.00,793.22 L1734.00,793.20 L1735.00,793.18 L1736.00,793.16 L1737.00,793.14 L1738.00,793.12 L1739.00,793.10 L1740.00,793.09 L1741.00,793.07 L1742.00,793.05 L1743.00,793.04 L1744.00,793.02 L1745.00,793.01 L1746.00,793.00 L1747.00,792.98 L1748.00,792.97 L1749.00,792.96 L1750.00,792.95 L1751.00,792.94 L1752.00,792.93 L1753.00,792.92 L1754.00,792.91 L1755.00,792.90 L1756.00,792.90 L1757.00,792.89 L1758.00,792.88 L1759.00,792.88 L1760.00,792.87 L1761.00,792.87 L1762.00,792.86 L1763.00,792.86 L1764.00,792.85 L1765.00,792.85 L1766.00,792.85 L1767.00,792.85 L1768.00,792.84 L1769.00,792.84 L1770.00,792.84 L1771.00,792.84 L1772.00,792.84 L1773.00,792.84 L1774.00,792.84 L1775.00,792.84 L1776.00,792.84 L1777.00,792.85 L1778.00,792.85 L1779.00,792.85 L1780.00,792.85 L1781.00,792.86 L1782.00,792.86 L1783.00,792.86 L1784.00,792.87 L1785.00,792.87 L1786.00,792.87 L1787.00,792.88 L1788.00,792.88 L1789.00,792.89 L1790.00,792.89 L1791.00,792.90 L1792.00,792.90 L1793.00,792.91 L1794.00,792.91 L1795.00,792.92 L1796.00,792.92 L1797.00,792.93 L1798.00,792.93 L1799.00,792.94 L1800.00,792.95 L1801.00,792.95 L1802.00,792.96 L1803.00,792.96 L1804.00,792.97 L1805.00,792.98 L1806.00,792.98 L1807.00,792.99 L1808.00,792.99 L1809.00,793.00 L1810.00,793.01 L1811.00,793.01 L1812.00,793.02 L1813.00,793.02 L1814.00,793.03 L1815.00,793.04 L1816.00,793.04 L1817.00,793.05 L1818.00,793.05 L1819.00,793.06 L1820.00,793.06 L1821.00,793.07 L1822.00,793.07 L1823.00,793.08 L1824.00,793.08 L1825.00,793.08 L1826.00,793.09 L1827.00,793.09 L1828.00,793.09 L1829.00,793.10 L1830.00,793.10 L1831.00,793.10 L1832.00,793.10 L1833.00,793.11 L1834.00,793.11 L1835.00,793.11 L1836.00,793.11 L1837.00,793.11 L1838.00,793.11 L1839.00,793.11 L1840.00,793.11 L1841.00,793.11 L1842.00,793.11 L1843.00,793.11 L1844.00,793.10 L1845.00,793.10 L1846.00,793.10 L1847.00,793.09 L1848.00,793.09 L1849.00,793.09 L1850.00,793.08 L1851.00,793.08 L1852.00,793.07 L1853.00,793.06 L1854.00,793.06 L1855.00,793.05 L1856.00,793.04 L1857.00,793.03 L1858.00,793.02 L1859.00,793.01 L1860.00,793.00 L1861.00,792.99 L1862.00,792.98 L1863.00,792.97 L1864.00,792.95 L1865.00,792.94 L1866.00,792.92 L1867.00,792.91 L1868.00,792.89 L1869.00,792.88 L1870.00,792.86 L1871.00,792.84 L1871.70,792.83" fill="none" stroke="#a2a2a2" stroke-width="7.2" stroke-linejoin="round" stroke-dasharray="6.5 14.5" stroke-dashoffset="0.31" stroke-linecap="round"/>
<text x="1651.77" y="646.6" font-size="37.8" fill="#000" textLength="138.91" lengthAdjust="spacingAndGlyphs">Iso 1 µM</text>
<text x="1653.89" y="717.7" font-size="37.6" fill="#000" textLength="229.4" lengthAdjust="spacingAndGlyphs">CANT 100 µM</text>
<text x="1653.29" y="767" font-size="37.3" fill="#000" textLength="48.27" lengthAdjust="spacingAndGlyphs">Ctr</text>
<text x="19.01" y="1218.2" font-size="60" fill="#000" textLength="41.93" lengthAdjust="spacingAndGlyphs">D</text>
<line x1="149.3" y1="1193.2" x2="149.3" y2="1663.6" stroke="#000" stroke-width="2"/>
<line x1="135.2" y1="1194.1" x2="149.3" y2="1194.1" stroke="#000" stroke-width="2"/>
<text x="92.99" y="1205.9" font-size="35" font-weight="bold" fill="#000" textLength="37.96" lengthAdjust="spacingAndGlyphs">10</text>
<line x1="135.2" y1="1287.9" x2="149.3" y2="1287.9" stroke="#000" stroke-width="2"/>
<text x="111.58" y="1299.7" font-size="35" font-weight="bold" fill="#000" textLength="18.98" lengthAdjust="spacingAndGlyphs">8</text>
<line x1="135.2" y1="1381.8" x2="149.3" y2="1381.8" stroke="#000" stroke-width="2"/>
<text x="111.75" y="1393.6" font-size="35" font-weight="bold" fill="#000" textLength="18.98" lengthAdjust="spacingAndGlyphs">6</text>
<line x1="135.2" y1="1475.6" x2="149.3" y2="1475.6" stroke="#000" stroke-width="2"/>
<text x="110.73" y="1487.4" font-size="35" font-weight="bold" fill="#000" textLength="18.98" lengthAdjust="spacingAndGlyphs">4</text>
<line x1="135.2" y1="1569.8" x2="149.3" y2="1569.8" stroke="#000" stroke-width="2"/>
<text x="111.84" y="1581.6" font-size="35" font-weight="bold" fill="#000" textLength="18.98" lengthAdjust="spacingAndGlyphs">2</text>
<line x1="135.2" y1="1663.6" x2="149.3" y2="1663.6" stroke="#000" stroke-width="2"/>
<text x="111.93" y="1675.4" font-size="35" font-weight="bold" fill="#000" textLength="18.98" lengthAdjust="spacingAndGlyphs">0</text>
<line x1="135.2" y1="1663.6" x2="212.6" y2="1663.6" stroke="#000" stroke-width="2"/>
<line x1="247.7" y1="1663.6" x2="755.4" y2="1663.6" stroke="#000" stroke-width="2"/>
<line x1="790.2" y1="1663.6" x2="854.4" y2="1663.6" stroke="#000" stroke-width="2"/>
<line x1="212.6" y1="1656.4" x2="212.6" y2="1672.8" stroke="#000" stroke-width="2"/>
<line x1="247.7" y1="1656.4" x2="247.7" y2="1672.8" stroke="#000" stroke-width="2"/>
<line x1="755.4" y1="1656.4" x2="755.4" y2="1672.8" stroke="#000" stroke-width="2"/>
<line x1="790.2" y1="1656.4" x2="790.2" y2="1672.8" stroke="#000" stroke-width="2"/>
<line x1="180.8" y1="1663.6" x2="180.8" y2="1677.1" stroke="#000" stroke-width="2"/>
<line x1="332.5" y1="1663.6" x2="332.5" y2="1677.1" stroke="#000" stroke-width="2"/>
<line x1="493.8" y1="1663.6" x2="493.8" y2="1677.1" stroke="#000" stroke-width="2"/>
<line x1="670.7" y1="1663.6" x2="670.7" y2="1677.1" stroke="#000" stroke-width="2"/>
<line x1="832.8" y1="1663.6" x2="832.8" y2="1677.1" stroke="#000" stroke-width="2"/>
<text x="154.88" y="1715.8" font-size="35" font-weight="bold" fill="#000" textLength="50.55" lengthAdjust="spacingAndGlyphs">Ctr</text>
<text x="322.69" y="1715.8" font-size="35" font-weight="bold" fill="#000" textLength="18.98" lengthAdjust="spacingAndGlyphs">5</text>
<text x="660.86" y="1715.8" font-size="35" font-weight="bold" fill="#000" textLength="18.98" lengthAdjust="spacingAndGlyphs">4</text>
<text x="823.19" y="1715.8" font-size="35" font-weight="bold" fill="#000" textLength="18.98" lengthAdjust="spacingAndGlyphs">6</text>
<text x="340.01" y="1773" font-size="36.4" font-weight="bold" fill="#000" textLength="333.17" lengthAdjust="spacingAndGlyphs">Cantharidin(-log[M])</text>
<text x="804.11" y="1772.9" font-size="36.4" font-weight="bold" fill="#000" textLength="51.11" lengthAdjust="spacingAndGlyphs">Iso</text>
<text transform="translate(27.4,1515.99) rotate(-90)" x="0" y="0" font-size="36.7" font-weight="bold" fill="#000" textLength="179.43" lengthAdjust="spacingAndGlyphs">Force (mN)</text>
<text x="175.83" y="1250.9" font-size="35.4" fill="#000" textLength="83.96" lengthAdjust="spacing">CANT</text>
<text x="292.86" y="1250.9" font-size="35.4" fill="#000" textLength="78.19" lengthAdjust="spacingAndGlyphs">n = 8</text>
<text x="175.43" y="1291.3" font-size="35.4" fill="#000" textLength="46.04" lengthAdjust="spacing">Iso</text>
<text x="292.85" y="1291.3" font-size="35.4" fill="#000" textLength="78.46" lengthAdjust="spacingAndGlyphs">n = 7</text>
<line x1="180.8" y1="1527.9" x2="180.8" y2="1561.9" stroke="#000" stroke-width="2"/>
<line x1="170.8" y1="1527.9" x2="190.8" y2="1527.9" stroke="#000" stroke-width="2"/>
<line x1="170.8" y1="1561.9" x2="190.8" y2="1561.9" stroke="#000" stroke-width="2"/>
<line x1="332.5" y1="1498.2" x2="332.5" y2="1564.7" stroke="#000" stroke-width="2"/>
<line x1="322.5" y1="1498.2" x2="342.5" y2="1498.2" stroke="#000" stroke-width="2"/>
<line x1="322.5" y1="1564.7" x2="342.5" y2="1564.7" stroke="#000" stroke-width="2"/>
<line x1="493.8" y1="1443" x2="493.8" y2="1520.4" stroke="#000" stroke-width="2"/>
<line x1="483.8" y1="1443" x2="503.8" y2="1443" stroke="#000" stroke-width="2"/>
<line x1="483.8" y1="1520.4" x2="503.8" y2="1520.4" stroke="#000" stroke-width="2"/>
<line x1="670.7" y1="1390.2" x2="670.7" y2="1461.9" stroke="#000" stroke-width="2"/>
<line x1="660.7" y1="1390.2" x2="680.7" y2="1390.2" stroke="#000" stroke-width="2"/>
<line x1="660.7" y1="1461.9" x2="680.7" y2="1461.9" stroke="#000" stroke-width="2"/>
<line x1="832.8" y1="1271.3" x2="832.8" y2="1365.8" stroke="#000" stroke-width="2"/>
<line x1="822.8" y1="1271.3" x2="842.8" y2="1271.3" stroke="#000" stroke-width="2"/>
<line x1="822.8" y1="1365.8" x2="842.8" y2="1365.8" stroke="#000" stroke-width="2"/>
<line x1="180.8" y1="1544.8" x2="215.5" y2="1541.73" stroke="#000" stroke-width="1.7"/>
<line x1="245" y1="1539.13" x2="332.5" y2="1531.4" stroke="#000" stroke-width="1.7"/>
<polyline points="332.5,1531.4 493.8,1481.7 670.7,1426.1" fill="none" stroke="#000" stroke-width="1.7"/>
<polygon points="180.8,1537.5 190.4,1554.1 171.2,1554.1" fill="#000"/>
<polygon points="332.5,1524.1 342.1,1540.7 322.9,1540.7" fill="#000"/>
<polygon points="493.8,1474.4 503.4,1491 484.2,1491" fill="#000"/>
<polygon points="670.7,1418.8 680.3,1435.4 661.1,1435.4" fill="#000"/>
<polygon points="832.8,1311.3 842.4,1327.9 823.2,1327.9" fill="#000"/>
<text x="332.62" y="1474.4" font-size="35" stroke="#000" stroke-width="0.7" fill="#000" textLength="19.81" lengthAdjust="spacingAndGlyphs">#</text>
<text x="495.22" y="1432.1" font-size="35" stroke="#000" stroke-width="0.7" fill="#000" textLength="19.81" lengthAdjust="spacingAndGlyphs">#</text>
<text x="672.52" y="1380.22" font-size="40" stroke="#000" stroke-width="0.6" fill="#000" textLength="15.13" lengthAdjust="spacingAndGlyphs">*</text>
<text x="687.62" y="1385.1" font-size="35" stroke="#000" stroke-width="0.7" fill="#000" textLength="19.61" lengthAdjust="spacingAndGlyphs">#</text>
<text x="831.98" y="1256.22" font-size="40" stroke="#000" stroke-width="0.6" fill="#000" textLength="16.01" lengthAdjust="spacingAndGlyphs">*</text>
<text x="1014.06" y="1218.2" font-size="60" fill="#000" textLength="38.36" lengthAdjust="spacingAndGlyphs">E</text>
<line x1="1164.5" y1="1190.3" x2="1164.5" y2="1664" stroke="#000" stroke-width="2"/>
<line x1="1150.6" y1="1191.3" x2="1164.5" y2="1191.3" stroke="#000" stroke-width="2"/>
<text x="1108.99" y="1203.1" font-size="35" font-weight="bold" fill="#000" textLength="37.96" lengthAdjust="spacingAndGlyphs">40</text>
<line x1="1150.6" y1="1309.5" x2="1164.5" y2="1309.5" stroke="#000" stroke-width="2"/>
<text x="1108.99" y="1321.3" font-size="35" font-weight="bold" fill="#000" textLength="37.96" lengthAdjust="spacingAndGlyphs">30</text>
<line x1="1150.6" y1="1427.5" x2="1164.5" y2="1427.5" stroke="#000" stroke-width="2"/>
<text x="1108.99" y="1439.3" font-size="35" font-weight="bold" fill="#000" textLength="37.96" lengthAdjust="spacingAndGlyphs">20</text>
<line x1="1150.6" y1="1545.8" x2="1164.5" y2="1545.8" stroke="#000" stroke-width="2"/>
<text x="1108.99" y="1557.6" font-size="35" font-weight="bold" fill="#000" textLength="37.96" lengthAdjust="spacingAndGlyphs">10</text>
<line x1="1150.6" y1="1664" x2="1164.5" y2="1664" stroke="#000" stroke-width="2"/>
<text x="1127.93" y="1675.8" font-size="35" font-weight="bold" fill="#000" textLength="18.98" lengthAdjust="spacingAndGlyphs">0</text>
<line x1="1150.6" y1="1664" x2="1228.8" y2="1664" stroke="#000" stroke-width="2"/>
<line x1="1263.9" y1="1664" x2="1773.7" y2="1664" stroke="#000" stroke-width="2"/>
<line x1="1808.4" y1="1664" x2="1872.4" y2="1664" stroke="#000" stroke-width="2"/>
<line x1="1228.8" y1="1656.8" x2="1228.8" y2="1673.2" stroke="#000" stroke-width="2"/>
<line x1="1263.9" y1="1656.8" x2="1263.9" y2="1673.2" stroke="#000" stroke-width="2"/>
<line x1="1773.7" y1="1656.8" x2="1773.7" y2="1673.2" stroke="#000" stroke-width="2"/>
<line x1="1808.4" y1="1656.8" x2="1808.4" y2="1673.2" stroke="#000" stroke-width="2"/>
<line x1="1196.7" y1="1664" x2="1196.7" y2="1677.5" stroke="#000" stroke-width="2"/>
<line x1="1348.8" y1="1664" x2="1348.8" y2="1677.5" stroke="#000" stroke-width="2"/>
<line x1="1510.5" y1="1664" x2="1510.5" y2="1677.5" stroke="#000" stroke-width="2"/>
<line x1="1688.2" y1="1664" x2="1688.2" y2="1677.5" stroke="#000" stroke-width="2"/>
<line x1="1851" y1="1664" x2="1851" y2="1677.5" stroke="#000" stroke-width="2"/>
<text x="1171.27" y="1716.9" font-size="35" font-weight="bold" fill="#000" textLength="50.55" lengthAdjust="spacingAndGlyphs">Ctr</text>
<text x="1338.99" y="1716.9" font-size="35" font-weight="bold" fill="#000" textLength="18.98" lengthAdjust="spacingAndGlyphs">5</text>
<text x="1678.36" y="1716.9" font-size="35" font-weight="bold" fill="#000" textLength="18.98" lengthAdjust="spacingAndGlyphs">4</text>
<text x="1841.29" y="1716.9" font-size="35" font-weight="bold" fill="#000" textLength="18.98" lengthAdjust="spacingAndGlyphs">6</text>
<text x="1350.81" y="1773.5" font-size="36.4" font-weight="bold" fill="#000" textLength="342.78" lengthAdjust="spacingAndGlyphs">Cantharidin (-log[M])</text>
<text x="1822.72" y="1773.5" font-size="36.4" font-weight="bold" fill="#000" textLength="51" lengthAdjust="spacingAndGlyphs">Iso</text>
<text transform="translate(1061.1,1552.93) rotate(-90)" x="0" y="0" font-size="37.2" fill="#000" textLength="252.95" lengthAdjust="spacingAndGlyphs">T1 and T2 (ms)</text>
<text x="1191.03" y="1248" font-size="35.4" fill="#000" textLength="85.16" lengthAdjust="spacing">CANT</text>
<text x="1308.63" y="1248" font-size="35.4" fill="#000" textLength="79.14" lengthAdjust="spacingAndGlyphs">n = 8</text>
<text x="1190.63" y="1289.3" font-size="35.4" fill="#000" textLength="41.44" lengthAdjust="spacing">Iso</text>
<text x="1308.64" y="1289.3" font-size="35.4" fill="#000" textLength="78.68" lengthAdjust="spacingAndGlyphs">n = 7</text>
<line x1="1196.5" y1="1322.8" x2="1196.5" y2="1364.8" stroke="#000" stroke-width="2"/>
<line x1="1186.5" y1="1322.8" x2="1206.5" y2="1322.8" stroke="#000" stroke-width="2"/>
<line x1="1186.5" y1="1364.8" x2="1206.5" y2="1364.8" stroke="#000" stroke-width="2"/>
<line x1="1348.9" y1="1341.6" x2="1348.9" y2="1377.6" stroke="#000" stroke-width="2"/>
<line x1="1338.9" y1="1341.6" x2="1358.9" y2="1341.6" stroke="#000" stroke-width="2"/>
<line x1="1338.9" y1="1377.6" x2="1358.9" y2="1377.6" stroke="#000" stroke-width="2"/>
<line x1="1510.5" y1="1354.6" x2="1510.5" y2="1390.6" stroke="#000" stroke-width="2"/>
<line x1="1500.5" y1="1354.6" x2="1520.5" y2="1354.6" stroke="#000" stroke-width="2"/>
<line x1="1500.5" y1="1390.6" x2="1520.5" y2="1390.6" stroke="#000" stroke-width="2"/>
<line x1="1688.5" y1="1323.6" x2="1688.5" y2="1370.2" stroke="#000" stroke-width="2"/>
<line x1="1678.5" y1="1323.6" x2="1698.5" y2="1323.6" stroke="#000" stroke-width="2"/>
<line x1="1678.5" y1="1370.2" x2="1698.5" y2="1370.2" stroke="#000" stroke-width="2"/>
<line x1="1851.2" y1="1324.1" x2="1851.2" y2="1360.8" stroke="#000" stroke-width="2"/>
<line x1="1841.2" y1="1324.1" x2="1861.2" y2="1324.1" stroke="#000" stroke-width="2"/>
<line x1="1841.2" y1="1360.8" x2="1861.2" y2="1360.8" stroke="#000" stroke-width="2"/>
<line x1="1196.5" y1="1344.4" x2="1231.9" y2="1347.93" stroke="#000" stroke-width="1.6"/>
<line x1="1260.3" y1="1350.76" x2="1348.9" y2="1359.6" stroke="#000" stroke-width="1.6"/>
<polyline points="1348.9,1359.6 1510.5,1372.2 1688.5,1347.4" fill="none" stroke="#000" stroke-width="1.6"/>
<line x1="1196.3" y1="1486.5" x2="1196.3" y2="1508.3" stroke="#000" stroke-width="2"/>
<line x1="1186.3" y1="1486.5" x2="1206.3" y2="1486.5" stroke="#000" stroke-width="2"/>
<line x1="1186.3" y1="1508.3" x2="1206.3" y2="1508.3" stroke="#000" stroke-width="2"/>
<line x1="1348.6" y1="1490.7" x2="1348.6" y2="1511.8" stroke="#000" stroke-width="2"/>
<line x1="1338.6" y1="1490.7" x2="1358.6" y2="1490.7" stroke="#000" stroke-width="2"/>
<line x1="1338.6" y1="1511.8" x2="1358.6" y2="1511.8" stroke="#000" stroke-width="2"/>
<line x1="1851.1" y1="1476.9" x2="1851.1" y2="1526" stroke="#000" stroke-width="2"/>
<line x1="1841.1" y1="1476.9" x2="1861.1" y2="1476.9" stroke="#000" stroke-width="2"/>
<line x1="1841.1" y1="1526" x2="1861.1" y2="1526" stroke="#000" stroke-width="2"/>
<line x1="1196.3" y1="1497.4" x2="1231.9" y2="1498.41" stroke="#000" stroke-width="1.6"/>
<line x1="1260.3" y1="1499.21" x2="1348.6" y2="1501.7" stroke="#000" stroke-width="1.6"/>
<polyline points="1348.6,1501.7 1510.4,1511.8 1688.3,1514.1" fill="none" stroke="#000" stroke-width="1.6"/>
<rect x="1186.75" y="1334.65" width="19.5" height="19.5" rx="2" fill="#000"/>
<rect x="1339.15" y="1349.85" width="19.5" height="19.5" rx="2" fill="#000"/>
<rect x="1500.75" y="1362.45" width="19.5" height="19.5" rx="2" fill="#000"/>
<rect x="1678.75" y="1337.65" width="19.5" height="19.5" rx="2" fill="#000"/>
<rect x="1841.45" y="1333.65" width="19.5" height="19.5" rx="2" fill="#000"/>
<circle cx="1196.3" cy="1497.4" r="9.8" fill="#000"/>
<circle cx="1348.6" cy="1501.7" r="9.8" fill="#000"/>
<circle cx="1510.4" cy="1511.8" r="9.8" fill="#000"/>
<circle cx="1688.3" cy="1514.1" r="9.8" fill="#000"/>
<circle cx="1851.1" cy="1501.5" r="9.8" fill="#000"/>
<line x1="1920.1" y1="1223.6" x2="1971.6" y2="1223.6" stroke="#000" stroke-width="1.3"/>
<circle cx="1945.9" cy="1224.3" r="9.9" fill="#000"/>
<line x1="1920.1" y1="1278.2" x2="1971.6" y2="1278.2" stroke="#000" stroke-width="1.3"/>
<rect x="1936.2" y="1267.6" width="19.6" height="20.7" fill="#000"/>
<text x="1999.43" y="1237" font-size="40.5" fill="#000" textLength="26.32" lengthAdjust="spacingAndGlyphs">t1</text>
<text x="1999.33" y="1291.1" font-size="40.5" fill="#000" textLength="31.62" lengthAdjust="spacingAndGlyphs">t2</text>
<text x="22.18" y="1874.1" font-size="60" fill="#000" textLength="36.46" lengthAdjust="spacingAndGlyphs">F</text>
<line x1="152.2" y1="1857" x2="152.2" y2="2327.2" stroke="#000" stroke-width="2"/>
<line x1="138.4" y1="1858" x2="152.2" y2="1858" stroke="#000" stroke-width="2"/>
<text x="75.66" y="1869.8" font-size="35" font-weight="bold" fill="#000" textLength="56.94" lengthAdjust="spacingAndGlyphs">600</text>
<line x1="138.4" y1="1951.7" x2="152.2" y2="1951.7" stroke="#000" stroke-width="2"/>
<text x="75.66" y="1963.5" font-size="35" font-weight="bold" fill="#000" textLength="56.94" lengthAdjust="spacingAndGlyphs">400</text>
<line x1="138.4" y1="2045.6" x2="152.2" y2="2045.6" stroke="#000" stroke-width="2"/>
<text x="75.66" y="2057.4" font-size="35" font-weight="bold" fill="#000" textLength="56.94" lengthAdjust="spacingAndGlyphs">200</text>
<line x1="138.4" y1="2140.1" x2="152.2" y2="2140.1" stroke="#000" stroke-width="2"/>
<text x="113.63" y="2151.9" font-size="35" font-weight="bold" fill="#000" textLength="18.98" lengthAdjust="spacingAndGlyphs">0</text>
<line x1="138.4" y1="2233.9" x2="152.2" y2="2233.9" stroke="#000" stroke-width="2"/>
<text x="64.31" y="2245.7" font-size="35" font-weight="bold" fill="#000" textLength="68.3" lengthAdjust="spacingAndGlyphs">-200</text>
<line x1="138.4" y1="2327.2" x2="152.2" y2="2327.2" stroke="#000" stroke-width="2"/>
<text x="64.31" y="2339" font-size="35" font-weight="bold" fill="#000" textLength="68.3" lengthAdjust="spacingAndGlyphs">-400</text>
<line x1="154.2" y1="2140.1" x2="858" y2="2140.1" stroke="#000" stroke-width="2" stroke-dasharray="4.5 2.5"/>
<line x1="138.4" y1="2327.2" x2="216.1" y2="2327.2" stroke="#000" stroke-width="2"/>
<line x1="251.2" y1="2327.2" x2="758.5" y2="2327.2" stroke="#000" stroke-width="2"/>
<line x1="793.4" y1="2327.2" x2="857.5" y2="2327.2" stroke="#000" stroke-width="2"/>
<line x1="216.1" y1="2320" x2="216.1" y2="2336.4" stroke="#000" stroke-width="2"/>
<line x1="251.2" y1="2320" x2="251.2" y2="2336.4" stroke="#000" stroke-width="2"/>
<line x1="758.5" y1="2320" x2="758.5" y2="2336.4" stroke="#000" stroke-width="2"/>
<line x1="793.4" y1="2320" x2="793.4" y2="2336.4" stroke="#000" stroke-width="2"/>
<line x1="184.2" y1="2327.2" x2="184.2" y2="2340.7" stroke="#000" stroke-width="2"/>
<line x1="335.8" y1="2327.2" x2="335.8" y2="2340.7" stroke="#000" stroke-width="2"/>
<line x1="497" y1="2327.2" x2="497" y2="2340.7" stroke="#000" stroke-width="2"/>
<line x1="673.9" y1="2327.2" x2="673.9" y2="2340.7" stroke="#000" stroke-width="2"/>
<line x1="835.6" y1="2327.2" x2="835.6" y2="2340.7" stroke="#000" stroke-width="2"/>
<text x="158.08" y="2380.4" font-size="35" font-weight="bold" fill="#000" textLength="50.55" lengthAdjust="spacingAndGlyphs">Ctr</text>
<text x="326.09" y="2380.4" font-size="35" font-weight="bold" fill="#000" textLength="18.98" lengthAdjust="spacingAndGlyphs">5</text>
<text x="663.96" y="2380.4" font-size="35" font-weight="bold" fill="#000" textLength="18.98" lengthAdjust="spacingAndGlyphs">4</text>
<text x="826.59" y="2380.4" font-size="35" font-weight="bold" fill="#000" textLength="18.98" lengthAdjust="spacingAndGlyphs">6</text>
<text x="339.21" y="2436.8" font-size="36.4" font-weight="bold" fill="#000" textLength="342.68" lengthAdjust="spacingAndGlyphs">Cantharidin (-log[M])</text>
<text x="806.94" y="2436.8" font-size="36.4" font-weight="bold" fill="#000" textLength="48.41" lengthAdjust="spacingAndGlyphs">Iso</text>
<text transform="translate(50,2195.33) rotate(-90)" x="0" y="0" font-size="36.7" font-weight="bold" fill="#000" textLength="205.31" lengthAdjust="spacingAndGlyphs">DF/dt (mN/s)</text>
<text x="179.53" y="1914.9" font-size="35.4" fill="#000" textLength="84.06" lengthAdjust="spacing">CANT</text>
<text x="295.93" y="1914.9" font-size="35.4" fill="#000" textLength="79.03" lengthAdjust="spacingAndGlyphs">n = 8</text>
<text x="178.73" y="1955.1" font-size="35.4" fill="#000" textLength="39.64" lengthAdjust="spacing">Iso</text>
<text x="295.94" y="1955.1" font-size="35.4" fill="#000" textLength="78.78" lengthAdjust="spacingAndGlyphs">n = 7</text>
<line x1="184.5" y1="2054.9" x2="184.5" y2="2077.2" stroke="#000" stroke-width="2"/>
<line x1="174.5" y1="2054.9" x2="194.5" y2="2054.9" stroke="#000" stroke-width="2"/>
<line x1="174.5" y1="2077.2" x2="194.5" y2="2077.2" stroke="#000" stroke-width="2"/>
<line x1="335.6" y1="2054.9" x2="335.6" y2="2081.3" stroke="#000" stroke-width="2"/>
<line x1="325.6" y1="2054.9" x2="345.6" y2="2054.9" stroke="#000" stroke-width="2"/>
<line x1="325.6" y1="2081.3" x2="345.6" y2="2081.3" stroke="#000" stroke-width="2"/>
<line x1="497.3" y1="1983.5" x2="497.3" y2="2038.5" stroke="#000" stroke-width="2"/>
<line x1="487.3" y1="1983.5" x2="507.3" y2="1983.5" stroke="#000" stroke-width="2"/>
<line x1="487.3" y1="2038.5" x2="507.3" y2="2038.5" stroke="#000" stroke-width="2"/>
<line x1="673.9" y1="1945.5" x2="673.9" y2="1997.5" stroke="#000" stroke-width="2"/>
<line x1="663.9" y1="1945.5" x2="683.9" y2="1945.5" stroke="#000" stroke-width="2"/>
<line x1="663.9" y1="1997.5" x2="683.9" y2="1997.5" stroke="#000" stroke-width="2"/>
<line x1="835.5" y1="1909.9" x2="835.5" y2="1965.6" stroke="#000" stroke-width="2"/>
<line x1="825.5" y1="1909.9" x2="845.5" y2="1909.9" stroke="#000" stroke-width="2"/>
<line x1="825.5" y1="1965.6" x2="845.5" y2="1965.6" stroke="#000" stroke-width="2"/>
<line x1="184.5" y1="2066.5" x2="218.5" y2="2067.06" stroke="#000" stroke-width="1.7"/>
<line x1="248.5" y1="2067.56" x2="335.6" y2="2069" stroke="#000" stroke-width="1.7"/>
<polyline points="335.6,2069 497.3,2011.1 673.9,1971.2" fill="none" stroke="#000" stroke-width="1.7"/>
<line x1="496.9" y1="2197.2" x2="496.9" y2="2224.7" stroke="#000" stroke-width="2"/>
<line x1="486.9" y1="2197.2" x2="506.9" y2="2197.2" stroke="#000" stroke-width="2"/>
<line x1="486.9" y1="2224.7" x2="506.9" y2="2224.7" stroke="#000" stroke-width="2"/>
<line x1="673.9" y1="2217" x2="673.9" y2="2241" stroke="#000" stroke-width="2"/>
<line x1="663.9" y1="2217" x2="683.9" y2="2217" stroke="#000" stroke-width="2"/>
<line x1="663.9" y1="2241" x2="683.9" y2="2241" stroke="#000" stroke-width="2"/>
<line x1="835.5" y1="2235.1" x2="835.5" y2="2267.8" stroke="#000" stroke-width="2"/>
<line x1="825.5" y1="2235.1" x2="845.5" y2="2235.1" stroke="#000" stroke-width="2"/>
<line x1="825.5" y1="2267.8" x2="845.5" y2="2267.8" stroke="#000" stroke-width="2"/>
<line x1="184.3" y1="2185" x2="218.5" y2="2184.68" stroke="#000" stroke-width="1.7"/>
<line x1="248.5" y1="2184.41" x2="335.6" y2="2183.6" stroke="#000" stroke-width="1.7"/>
<polyline points="335.6,2183.6 496.9,2210.9 673.9,2229" fill="none" stroke="#000" stroke-width="1.7"/>
<polygon points="184.5,2055.6 195.9,2066.5 184.5,2077.4 173.1,2066.5" fill="#000"/>
<polygon points="335.6,2058.1 347,2069 335.6,2079.9 324.2,2069" fill="#000"/>
<polygon points="497.3,2000.2 508.7,2011.1 497.3,2022 485.9,2011.1" fill="#000"/>
<polygon points="673.9,1960.3 685.3,1971.2 673.9,1982.1 662.5,1971.2" fill="#000"/>
<polygon points="835.5,1926.7 846.9,1937.6 835.5,1948.5 824.1,1937.6" fill="#000"/>
<polygon points="174.7,2176.5 193.9,2176.5 184.3,2194" fill="#000"/>
<polygon points="326,2175.1 345.2,2175.1 335.6,2192.6" fill="#000"/>
<polygon points="487.3,2202.4 506.5,2202.4 496.9,2219.9" fill="#000"/>
<polygon points="664.3,2220.5 683.5,2220.5 673.9,2238" fill="#000"/>
<polygon points="825.9,2242.9 845.1,2242.9 835.5,2260.4" fill="#000"/>
<text x="341.13" y="2044.6" font-size="35" stroke="#000" stroke-width="0.7" fill="#000" textLength="19.3" lengthAdjust="spacingAndGlyphs">#</text>
<text x="333.72" y="2236.5" font-size="35" stroke="#000" stroke-width="0.7" fill="#000" textLength="19.81" lengthAdjust="spacingAndGlyphs">#</text>
<text x="678.12" y="1932.32" font-size="40" stroke="#000" stroke-width="0.6" fill="#000" textLength="15.13" lengthAdjust="spacingAndGlyphs">*</text>
<text x="835.92" y="1897.32" font-size="40" stroke="#000" stroke-width="0.6" fill="#000" textLength="15.13" lengthAdjust="spacingAndGlyphs">*</text>
<text x="678.4" y="2290.52" font-size="40" stroke="#000" stroke-width="0.6" fill="#000" textLength="15.57" lengthAdjust="spacingAndGlyphs">*</text>
<text x="849.62" y="2312.32" font-size="40" stroke="#000" stroke-width="0.6" fill="#000" textLength="15.02" lengthAdjust="spacingAndGlyphs">*</text>
</svg>
</body></html>
